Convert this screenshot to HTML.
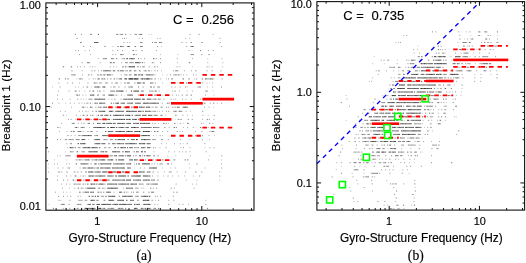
<!DOCTYPE html>
<html><head><meta charset="utf-8"><title>fig</title>
<style>html,body{margin:0;padding:0;background:#fff}svg{display:block;will-change:transform}</style>
</head><body>
<svg width="526" height="263" viewBox="0 0 526 263">
<rect width="526" height="263" fill="#fff"/>
<path d="M148.7 34.4h0.8M112.4 46.5h0.8M115.9 66.8h0.9M58.7 78.9h0.8M76.3 78.9h0.7M161.1 46.5h0.8M191.7 50.6h0.7M151.7 66.8h0.7M192.0 66.8h0.7M166.4 74.9h0.9M166.1 78.9h0.9M94.7 78.9h1.1M85.7 99.2h0.9M65.3 103.2h0.9M74.0 103.2h1.1M87.8 111.3h0.9M59.6 127.5h1.0M222.0 78.9h0.7M209.1 83.0h0.8M207.2 87.0h0.8M212.7 91.1h0.7M213.0 107.2h0.8M192.1 115.3h1.0M207.8 115.3h0.8M168.0 123.4h1.0M182.8 123.4h0.8M203.2 123.4h0.9M65.1 151.8h0.8M66.5 159.9h0.9M47.8 168.0h0.9M134.3 168.0h0.8M183.0 143.7h0.7M159.4 147.7h1.0M204.6 147.7h0.8M167.3 155.8h1.0M175.3 155.8h1.1M221.2 159.9h0.9M161.9 168.0h1.0M68.7 188.2h1.0M141.1 188.2h1.0M66.3 192.2h0.9M70.1 192.2h0.7M48.4 204.4h0.7M219.0 180.1h1.0M149.7 196.3h1.1" stroke="#000" stroke-opacity="0.3" stroke-width="0.9" fill="none"/>
<path d="M119.5 34.4h0.8M129.9 34.4h1.0M134.4 34.4h1.0M138.5 34.4h1.5M122.1 38.4h0.9M125.8 38.4h0.9M138.8 38.4h0.8M142.0 38.4h1.0M81.5 42.5h0.5M123.3 42.5h1.1M129.4 42.5h0.8M105.2 46.5h0.7M117.2 46.5h1.0M122.6 46.5h1.3M75.3 50.6h1.0M78.1 50.6h0.9M89.0 50.6h0.9M112.3 50.6h1.0M117.0 50.6h1.1M135.6 50.6h1.0M90.0 54.6h0.8M112.3 54.6h1.1M115.2 54.6h0.9M122.3 54.6h1.6M135.7 54.6h1.0M97.8 58.7h0.9M121.6 58.7h1.2M121.1 62.7h1.0M129.0 62.7h0.8M132.5 62.7h0.9M143.9 62.7h0.9M83.8 66.8h1.1M89.5 66.8h1.0M94.6 66.8h0.8M123.0 66.8h1.1M72.3 70.8h0.3M81.6 70.8h1.0M123.7 70.8h0.4M125.1 70.8h1.3M126.4 70.8h0.8M140.2 70.8h0.7M143.5 70.8h1.5M146.0 70.8h0.8M72.3 74.9h1.5M75.2 74.9h0.5M90.9 74.9h1.1M92.0 74.9h0.4M101.4 74.9h0.9M112.2 74.9h1.1M124.1 74.9h1.5M64.9 78.9h1.0M81.6 78.9h0.9M82.5 78.9h0.2M88.6 78.9h0.8M98.4 78.9h1.5M104.3 78.9h1.2M110.3 78.9h1.0M120.1 78.9h1.4M121.5 78.9h0.6M151.4 34.4h0.8M189.5 34.4h1.1M156.9 38.4h0.9M185.4 38.4h0.7M189.1 38.4h0.7M219.4 38.4h1.1M190.2 46.5h1.1M156.0 50.6h1.1M188.6 50.6h1.0M160.3 54.6h0.7M177.5 54.6h0.8M176.8 58.7h1.1M192.1 58.7h1.0M207.5 58.7h0.7M221.4 58.7h0.9M153.1 62.7h1.1M222.4 62.7h0.9M176.6 66.8h1.1M179.3 66.8h1.0M208.6 66.8h1.0M211.7 66.8h1.1M222.2 66.8h0.8M151.4 70.8h0.8M161.2 70.8h0.8M172.9 70.8h1.0M177.8 70.8h0.8M211.5 70.8h1.1M154.6 74.9h0.9M162.3 74.9h0.5M173.3 74.9h1.5M186.1 74.9h0.7M195.6 74.9h0.9M155.1 78.9h0.7M158.1 78.9h0.8M188.1 78.9h0.7M194.0 78.9h0.7M205.4 78.9h0.9M210.0 78.9h0.8M212.7 78.9h0.8M221.5 78.9h0.9M65.1 78.9h0.8M67.6 78.9h1.0M78.6 78.9h1.0M97.0 78.9h1.1M103.6 78.9h1.0M110.5 78.9h0.9M116.2 78.9h1.3M120.6 78.9h1.0M145.8 78.9h1.2M79.0 83.0h0.9M95.4 83.0h0.9M96.4 83.0h1.3M99.0 83.0h1.2M120.6 83.0h0.8M125.2 83.0h0.9M129.0 83.0h1.0M52.3 87.0h0.7M59.6 87.0h1.1M78.0 87.0h0.8M82.9 87.0h1.0M91.1 87.0h0.7M114.3 87.0h1.3M128.0 87.0h0.9M142.6 87.0h0.8M78.9 91.1h1.0M84.4 91.1h0.8M99.9 91.1h1.0M103.3 91.1h1.1M85.5 95.1h0.7M124.6 95.1h0.5M144.9 95.1h1.1M69.6 99.2h1.0M80.6 99.2h0.9M89.9 99.2h0.9M108.4 99.2h0.7M111.3 99.2h1.1M81.5 103.2h0.9M87.4 103.2h1.1M50.6 107.2h1.1M71.0 107.2h0.8M86.8 107.2h0.9M91.5 107.2h0.8M101.2 107.2h1.1M131.8 107.2h1.5M59.9 111.3h1.0M64.8 111.3h1.0M82.2 111.3h0.8M91.9 111.3h1.4M96.7 111.3h0.3M65.8 115.3h0.7M80.4 115.3h0.7M83.8 115.3h0.8M96.1 115.3h0.5M75.1 119.4h0.6M82.8 119.4h1.5M61.2 123.4h0.9M80.9 123.4h0.9M83.5 127.5h1.3M89.2 127.5h0.8M152.0 78.9h0.4M160.2 78.9h1.1M201.9 78.9h0.8M206.2 78.9h0.8M207.1 78.9h1.1M177.1 83.0h0.7M195.5 83.0h0.8M157.0 87.0h1.3M159.4 87.0h0.4M174.7 87.0h1.0M187.4 87.0h0.6M197.4 87.0h1.3M212.3 87.0h0.9M150.0 91.1h0.9M150.9 91.1h1.2M152.0 91.1h1.5M153.6 91.1h0.8M156.3 91.1h0.7M158.7 91.1h0.9M186.7 91.1h0.8M178.2 95.1h0.9M185.8 95.1h1.1M213.7 95.1h0.7M152.4 99.2h1.1M153.5 99.2h1.0M155.9 99.2h1.0M160.1 99.2h0.8M170.5 99.2h1.3M162.1 103.2h0.9M168.0 103.2h0.9M168.9 103.2h1.2M209.8 103.2h1.0M216.8 103.2h0.8M150.5 107.2h0.9M154.9 107.2h1.1M162.3 107.2h0.5M168.1 107.2h1.4M153.2 111.3h1.2M162.0 111.3h0.9M185.5 111.3h1.0M190.2 111.3h0.7M157.4 115.3h0.5M165.3 115.3h0.8M182.2 115.3h1.1M187.2 115.3h0.7M175.3 119.4h0.4M187.6 119.4h1.5M154.3 123.4h1.3M155.7 123.4h0.2M158.1 123.4h0.8M177.0 123.4h0.3M201.0 123.4h1.1M154.4 127.5h1.0M157.2 127.5h1.0M164.1 127.5h1.4M168.8 127.5h1.0M187.0 127.5h0.8M58.9 131.5h0.9M82.6 131.5h1.1M85.2 131.5h0.3M89.7 131.5h1.0M96.5 131.5h1.2M74.7 135.6h0.9M78.0 135.6h1.2M95.3 135.6h1.5M70.8 139.6h0.9M71.7 139.6h1.0M127.1 139.6h1.2M66.2 143.7h1.0M69.7 143.7h1.3M109.5 143.7h0.8M67.0 147.7h0.8M77.6 147.7h0.9M79.7 147.7h0.9M108.3 147.7h1.1M134.9 147.7h1.4M136.3 147.7h1.4M72.6 151.8h1.1M84.0 151.8h1.1M123.9 151.8h0.2M57.0 155.8h0.8M59.8 155.8h0.9M65.1 155.8h1.4M69.5 155.8h1.3M112.6 155.8h0.6M54.1 159.9h0.8M48.0 163.9h0.7M54.1 163.9h0.9M134.1 163.9h0.9M57.6 168.0h1.0M143.9 168.0h0.9M48.0 172.0h1.0M57.9 172.0h1.3M66.1 172.0h1.0M67.1 172.0h0.7M74.6 172.0h1.0M77.1 172.0h1.5M80.6 172.0h1.5M57.1 176.0h1.0M70.2 176.0h0.8M150.9 131.5h0.8M155.1 131.5h0.9M162.3 131.5h0.9M179.8 131.5h0.7M182.1 131.5h0.9M195.2 131.5h0.9M153.0 135.6h0.9M159.6 135.6h1.1M162.3 135.6h0.7M208.5 135.6h1.1M214.1 135.6h0.7M150.2 139.6h0.9M153.6 139.6h1.3M179.8 139.6h1.1M189.7 139.6h0.7M202.0 139.6h1.0M209.2 139.6h0.8M165.9 143.7h0.7M155.2 147.7h0.8M180.4 147.7h0.9M189.6 147.7h0.9M213.5 147.7h1.1M153.4 151.8h0.9M181.9 151.8h0.9M189.9 155.8h1.0M153.0 159.9h0.8M162.9 159.9h1.0M174.7 159.9h1.0M154.0 163.9h1.2M162.0 163.9h0.9M188.8 163.9h0.7M221.0 163.9h1.0M189.5 168.0h0.8M150.4 172.0h0.8M163.9 172.0h0.9M168.8 172.0h1.5M171.2 172.0h0.6M176.6 172.0h1.0M149.8 176.0h1.0M152.0 176.0h1.0M163.1 176.0h0.7M172.2 176.0h0.8M178.0 176.0h0.8M192.9 176.0h0.8M90.5 180.1h1.2M93.2 180.1h0.2M99.0 180.1h1.1M61.0 184.1h1.0M69.4 184.1h0.8M75.0 184.1h0.9M75.9 184.1h1.5M77.4 184.1h1.1M84.6 184.1h1.5M141.6 184.1h1.5M143.0 184.1h0.8M146.2 184.1h1.4M80.6 188.2h1.4M82.0 188.2h1.6M84.8 188.2h0.7M97.8 188.2h0.9M100.1 188.2h0.3M123.0 188.2h1.1M135.0 188.2h1.0M136.0 188.2h1.0M143.3 188.2h0.9M63.1 192.2h0.8M113.5 192.2h1.0M116.8 192.2h0.4M126.1 192.2h1.4M128.6 192.2h0.4M137.5 192.2h1.1M138.6 192.2h0.3M148.1 192.2h0.8M148.9 192.2h0.9M66.8 196.3h0.9M70.2 196.3h1.1M80.3 196.3h0.9M135.0 196.3h1.6M138.1 196.3h0.8M60.5 200.3h0.8M78.0 200.3h1.2M79.2 200.3h1.6M80.8 200.3h1.5M84.6 200.3h0.8M86.4 200.3h1.0M76.6 204.4h1.4M79.3 204.4h0.8M62.8 208.4h1.1M73.7 208.4h0.9M102.3 208.4h1.0M107.3 208.4h1.1M109.4 208.4h1.3M119.8 208.4h1.1M122.4 208.4h1.0M156.9 180.1h1.3M185.8 180.1h0.9M196.4 180.1h0.9M150.0 184.1h1.5M196.2 184.1h0.9M176.1 192.2h1.2M156.9 196.3h1.1M151.3 200.3h1.3M155.2 200.3h0.8M168.2 200.3h1.0M173.2 200.3h1.1M205.4 200.3h0.9M150.4 204.4h1.0M154.3 204.4h1.1M157.3 204.4h0.7M178.8 204.4h0.8M182.5 204.4h1.1M188.0 204.4h0.8M150.0 208.4h1.2M153.2 208.4h1.5M159.9 208.4h0.9M169.1 208.4h0.8" stroke="#000" stroke-opacity="0.4" stroke-width="0.9" fill="none"/>
<path d="M81.1 34.4h0.9M91.0 34.4h1.0M117.8 34.4h0.4M120.4 34.4h0.8M122.7 34.4h0.4M76.5 38.4h1.1M123.9 38.4h0.9M80.0 42.5h1.5M139.9 42.5h1.5M83.2 46.5h1.0M90.0 46.5h0.8M104.3 46.5h0.9M126.9 46.5h0.8M84.7 50.6h0.7M122.1 50.6h0.8M79.1 54.6h0.9M134.1 54.6h0.8M103.7 58.7h0.9M112.8 58.7h1.4M140.6 58.7h0.8M144.2 58.7h1.0M81.7 62.7h1.0M99.7 62.7h0.9M114.1 62.7h0.9M125.1 62.7h1.5M129.9 62.7h1.3M133.4 62.7h0.6M77.1 66.8h0.9M79.9 66.8h0.8M91.9 66.8h0.9M113.4 66.8h0.8M127.7 66.8h0.3M137.1 66.8h0.9M143.6 66.8h1.2M148.7 66.8h1.0M94.2 70.8h1.1M98.0 70.8h0.7M127.2 70.8h0.8M129.0 70.8h1.0M135.0 70.8h1.4M147.8 70.8h0.9M148.7 70.8h1.3M82.1 74.9h0.8M87.9 74.9h1.6M120.8 74.9h0.8M125.6 74.9h1.2M67.5 78.9h0.9M92.9 78.9h0.8M107.1 78.9h1.1M113.8 78.9h0.8M125.6 78.9h1.5M198.5 34.4h1.1M212.7 34.4h0.8M159.6 38.4h0.9M152.0 42.5h1.0M154.3 42.5h1.5M155.8 42.5h1.1M160.3 42.5h0.8M161.1 42.5h1.1M181.4 42.5h1.0M185.6 42.5h0.8M190.5 42.5h1.4M219.7 42.5h0.9M186.3 46.5h0.9M192.9 46.5h1.0M221.1 46.5h0.7M208.0 50.6h0.8M212.7 50.6h0.9M190.5 54.6h1.3M191.8 54.6h1.0M201.2 54.6h1.1M155.8 58.7h1.1M160.0 58.7h0.9M151.8 62.7h1.2M160.0 62.7h1.0M177.1 62.7h0.7M189.6 62.7h0.7M154.0 66.8h1.5M157.0 66.8h0.9M154.5 70.8h1.0M157.1 70.8h1.0M176.6 70.8h1.2M183.9 70.8h0.8M191.2 70.8h0.8M206.6 70.8h0.9M220.5 70.8h0.9M170.1 74.9h1.0M174.8 74.9h0.8M178.9 74.9h0.7M180.6 74.9h0.8M182.9 74.9h0.8M193.1 74.9h1.0M151.8 78.9h0.6M171.0 78.9h1.0M201.8 78.9h1.0M207.9 78.9h0.9M58.8 78.9h1.1M80.7 78.9h0.9M102.3 78.9h1.2M104.6 78.9h0.4M113.9 78.9h0.8M119.7 78.9h1.0M141.9 78.9h1.4M143.2 78.9h1.1M58.4 83.0h0.9M67.3 83.0h0.8M72.0 83.0h1.0M87.5 83.0h1.0M93.6 83.0h0.8M100.2 83.0h1.2M105.3 83.0h1.6M116.7 83.0h1.2M124.1 83.0h1.1M74.9 87.0h0.7M110.5 87.0h0.9M113.2 87.0h1.1M124.5 87.0h1.0M129.0 87.0h0.9M129.9 87.0h1.4M58.1 91.1h0.8M74.7 91.1h1.1M89.1 91.1h1.1M90.2 91.1h0.2M112.5 91.1h1.5M125.7 91.1h0.9M149.1 91.1h0.9M57.3 95.1h0.9M76.1 95.1h0.9M82.5 95.1h0.8M97.0 95.1h1.4M102.5 95.1h1.1M117.7 95.1h0.5M121.0 95.1h1.0M138.0 95.1h0.9M146.0 95.1h0.9M57.2 99.2h0.9M62.0 99.2h0.8M77.3 99.2h1.0M83.0 99.2h0.6M88.5 99.2h1.4M90.8 99.2h0.9M91.7 99.2h0.8M120.6 99.2h0.9M69.8 103.2h0.9M78.6 103.2h0.9M84.1 103.2h0.8M92.0 103.2h0.4M95.9 103.2h1.2M81.7 107.2h1.6M95.3 107.2h1.0M97.8 107.2h1.2M99.0 107.2h0.9M114.8 107.2h1.4M78.9 111.3h0.8M85.5 111.3h1.0M62.8 115.3h1.1M75.8 115.3h0.9M91.9 115.3h1.2M93.1 115.3h0.4M68.1 119.4h0.8M70.6 119.4h1.0M90.5 119.4h1.2M100.3 119.4h0.9M101.2 119.4h0.6M71.7 123.4h1.4M77.8 123.4h0.8M83.4 123.4h1.1M74.7 127.5h1.2M78.3 127.5h0.4M80.6 127.5h1.3M154.3 78.9h1.0M168.0 78.9h1.0M196.2 78.9h1.0M209.3 78.9h1.6M212.3 78.9h1.0M154.8 83.0h1.1M202.2 83.0h0.9M206.6 83.0h0.7M212.4 83.0h0.7M171.4 87.0h0.9M179.7 87.0h0.9M185.1 87.0h1.2M199.9 87.0h1.1M221.0 87.0h1.1M171.9 91.1h0.8M179.0 91.1h0.8M191.9 91.1h0.8M206.4 91.1h1.4M153.9 95.1h1.2M162.5 95.1h0.8M172.3 95.1h0.9M181.6 95.1h1.3M190.5 95.1h1.5M205.2 95.1h0.8M158.8 99.2h1.3M173.5 99.2h0.7M175.3 99.2h0.9M182.1 99.2h0.9M185.5 99.2h0.8M190.7 99.2h0.9M200.1 99.2h0.9M221.1 103.2h1.0M152.4 107.2h1.2M156.0 107.2h0.8M156.8 107.2h0.7M160.5 107.2h0.8M172.1 107.2h1.4M204.2 107.2h0.9M208.7 107.2h0.8M150.0 111.3h0.8M150.8 111.3h0.7M152.4 111.3h0.8M154.4 111.3h0.8M155.2 111.3h0.9M156.9 111.3h0.6M158.9 111.3h0.7M166.1 111.3h0.9M168.1 111.3h1.1M173.3 111.3h1.3M180.0 111.3h0.8M180.8 111.3h1.6M202.2 111.3h1.1M153.6 115.3h1.2M155.9 115.3h1.5M160.3 115.3h1.1M202.5 115.3h0.8M213.6 115.3h1.1M177.7 119.4h1.2M191.7 119.4h1.0M202.0 119.4h0.7M208.8 119.4h1.0M213.6 119.4h0.8M152.2 123.4h0.7M165.8 123.4h1.0M179.8 123.4h1.0M212.5 123.4h0.8M150.0 127.5h0.9M150.9 127.5h0.9M156.2 127.5h1.0M182.9 127.5h0.7M192.8 127.5h0.8M207.8 127.5h0.8M66.6 131.5h0.7M70.6 131.5h1.5M79.0 131.5h1.3M90.8 131.5h0.9M70.8 135.6h0.8M79.2 135.6h1.4M99.5 135.6h0.2M57.0 139.6h1.0M60.2 139.6h0.9M64.8 139.6h1.3M66.1 139.6h1.0M68.6 139.6h1.0M75.7 139.6h1.3M76.9 139.6h1.3M103.3 139.6h1.2M111.6 139.6h1.2M113.9 139.6h0.3M105.7 147.7h0.6M134.0 147.7h0.9M48.1 151.8h0.9M69.7 151.8h1.4M71.1 151.8h1.4M81.6 151.8h1.1M82.7 151.8h1.3M123.0 151.8h0.9M67.7 155.8h1.0M109.3 155.8h1.2M110.5 155.8h1.0M75.7 159.9h0.9M76.6 159.9h1.0M80.0 159.9h1.2M91.5 159.9h1.5M57.0 163.9h0.7M66.2 163.9h0.7M68.8 163.9h0.8M62.6 168.0h0.8M67.7 168.0h1.0M68.8 168.0h1.3M79.7 168.0h0.8M85.6 168.0h0.9M61.4 172.0h0.9M73.7 172.0h0.9M66.1 176.0h1.0M82.6 176.0h1.3M85.0 176.0h0.5M167.3 131.5h0.9M201.4 131.5h0.9M211.3 131.5h0.9M194.9 135.6h0.9M154.9 139.6h1.0M160.9 139.6h1.6M167.8 139.6h0.9M150.1 143.7h0.9M161.0 143.7h0.8M174.2 143.7h0.8M179.9 143.7h0.8M186.8 143.7h1.1M204.4 143.7h0.9M150.3 147.7h0.9M153.1 147.7h1.1M165.6 147.7h0.9M183.1 147.7h0.9M209.5 147.7h0.7M174.1 151.8h0.7M178.9 151.8h0.8M185.5 151.8h1.0M189.5 151.8h0.9M205.7 151.8h0.9M150.0 155.8h1.0M153.0 155.8h1.6M154.5 155.8h0.4M157.5 155.8h1.3M209.3 155.8h0.4M221.3 155.8h1.0M173.3 159.9h1.4M187.0 159.9h1.5M157.3 163.9h0.6M159.5 163.9h1.0M160.5 163.9h1.4M166.8 163.9h0.8M171.0 163.9h0.8M175.0 168.0h0.7M204.7 168.0h0.7M221.3 168.0h0.8M170.3 172.0h0.9M195.1 172.0h1.5M201.3 172.0h1.1M157.5 176.0h0.8M167.5 176.0h1.0M184.4 176.0h0.7M199.1 176.0h1.1M57.0 180.1h1.0M67.4 180.1h1.0M75.4 180.1h0.3M100.0 180.1h1.1M66.2 184.1h0.8M78.5 184.1h1.5M140.2 184.1h1.4M62.1 188.2h0.8M74.4 188.2h0.8M137.0 188.2h1.5M55.0 192.2h0.9M97.4 192.2h1.4M100.4 192.2h1.5M103.1 192.2h1.3M131.0 192.2h0.9M136.0 192.2h1.6M142.9 192.2h1.4M58.0 196.3h1.0M63.0 196.3h1.0M77.7 196.3h0.9M101.2 196.3h1.2M118.7 196.3h1.3M58.5 200.3h1.0M69.4 200.3h1.1M82.3 200.3h0.3M137.1 200.3h1.6M60.8 204.4h0.8M68.5 204.4h1.1M80.1 204.4h1.4M65.0 208.4h0.8M69.3 208.4h1.0M76.6 208.4h1.3M77.9 208.4h0.7M108.4 208.4h1.0M113.7 208.4h0.5M117.8 208.4h1.0M152.2 180.1h1.5M158.2 180.1h0.7M151.5 184.1h1.4M191.9 184.1h0.8M150.0 188.2h1.4M152.8 188.2h1.0M170.8 188.2h1.0M173.8 188.2h0.9M193.6 188.2h0.8M177.2 192.2h0.4M154.8 196.3h1.0M160.2 196.3h0.9M172.7 196.3h1.0M152.6 200.3h0.4M168.2 204.4h1.0M205.3 204.4h0.9" stroke="#000" stroke-opacity="0.5" stroke-width="0.9" fill="none"/>
<path d="M75.1 34.4h0.9M90.1 34.4h0.9M116.2 34.4h1.6M121.2 34.4h1.5M125.2 34.4h1.1M135.4 34.4h1.4M141.5 34.4h0.8M118.2 46.5h0.6M121.0 46.5h1.6M129.1 46.5h0.9M134.6 46.5h1.5M140.1 46.5h1.5M141.5 46.5h1.1M141.6 50.6h1.0M120.1 54.6h1.0M121.1 54.6h1.2M132.8 54.6h1.3M136.7 54.6h0.2M102.9 58.7h0.8M104.7 58.7h1.4M106.0 58.7h0.8M129.0 58.7h1.5M133.7 58.7h1.1M86.9 62.7h1.0M88.0 62.7h1.5M89.5 62.7h0.4M111.1 62.7h0.7M112.8 62.7h1.3M131.2 62.7h1.3M62.8 66.8h1.4M70.7 66.8h1.4M109.8 66.8h0.7M122.1 66.8h0.9M137.9 66.8h0.8M140.1 66.8h0.8M142.3 66.8h1.3M71.5 70.8h0.8M91.6 70.8h0.9M101.0 70.8h0.7M103.9 70.8h1.2M109.2 70.8h1.4M138.9 70.8h1.3M145.0 70.8h1.0M71.3 74.9h1.0M73.7 74.9h1.4M97.4 74.9h1.3M99.7 74.9h0.9M100.6 74.9h0.9M126.8 74.9h0.6M129.0 74.9h0.9M129.9 74.9h0.9M130.8 74.9h0.7M124.1 78.9h1.5M128.0 78.9h0.9M144.2 78.9h1.5M146.8 78.9h1.3M158.9 42.5h1.4M201.4 42.5h1.2M157.2 46.5h0.8M200.1 50.6h1.1M192.8 54.6h1.1M208.5 54.6h1.2M207.5 62.7h0.7M206.7 66.8h0.8M195.3 70.8h1.1M150.0 74.9h1.1M151.1 74.9h1.2M175.6 74.9h1.2M177.7 74.9h1.3M151.0 78.9h0.8M182.8 78.9h0.8M98.1 78.9h1.3M121.6 78.9h0.5M125.1 78.9h1.6M126.7 78.9h0.4M134.9 78.9h1.3M144.3 78.9h0.5M147.8 78.9h1.0M101.4 83.0h0.3M106.9 83.0h0.8M111.5 83.0h1.0M115.2 83.0h1.5M126.9 83.0h0.9M134.3 83.0h1.1M140.4 83.0h1.0M86.5 87.0h1.1M87.6 87.0h0.5M96.0 87.0h0.9M99.2 87.0h1.1M118.4 87.0h1.0M132.1 87.0h0.8M143.4 87.0h0.4M68.7 91.1h0.8M75.7 91.1h0.9M97.1 91.1h0.7M99.0 91.1h0.9M110.3 91.1h1.3M114.0 91.1h1.2M140.9 91.1h1.0M141.9 91.1h0.9M142.7 91.1h1.2M98.4 95.1h0.6M103.6 95.1h1.3M102.9 99.2h0.9M104.7 99.2h0.6M114.4 99.2h1.0M127.2 99.2h1.1M140.7 99.2h0.2M149.6 99.2h0.4M52.1 103.2h0.9M58.6 103.2h0.7M86.5 103.2h0.9M113.2 103.2h1.0M115.2 103.2h1.3M127.0 103.2h1.4M129.8 103.2h1.2M100.0 107.2h1.2M144.0 107.2h0.8M112.3 111.3h1.2M147.1 111.3h1.6M86.5 115.3h1.4M89.9 115.3h0.8M121.1 115.3h1.1M134.6 115.3h1.2M92.9 119.4h0.6M99.0 119.4h1.3M130.2 119.4h0.8M137.9 119.4h1.5M73.1 123.4h1.6M87.6 123.4h1.1M93.0 123.4h0.9M102.2 123.4h1.0M121.3 123.4h1.0M123.6 123.4h1.2M126.1 123.4h1.3M135.1 123.4h1.3M57.4 127.5h1.1M81.9 127.5h1.6M96.0 127.5h1.3M101.0 127.5h1.4M119.9 127.5h1.4M128.0 127.5h1.0M135.9 127.5h0.9M136.8 127.5h1.5M140.9 127.5h1.5M142.4 127.5h1.0M146.3 127.5h1.1M150.0 78.9h0.9M182.8 78.9h0.9M188.8 78.9h0.9M205.0 78.9h1.3M210.9 78.9h1.4M151.1 83.0h1.3M152.4 83.0h1.0M162.4 83.0h0.5M150.0 87.0h0.9M150.9 87.0h1.1M158.3 87.0h1.2M198.8 87.0h1.1M174.6 91.1h1.1M205.4 91.1h1.1M176.0 95.1h0.7M186.9 95.1h0.7M154.5 99.2h1.4M157.9 99.2h0.9M163.6 99.2h0.8M155.7 103.2h0.8M166.8 103.2h1.2M203.8 103.2h1.1M204.9 103.2h0.5M213.2 103.2h1.1M161.3 107.2h1.0M166.2 107.2h0.9M174.7 107.2h1.1M182.6 107.2h1.0M186.0 107.2h1.5M174.7 111.3h1.3M175.9 111.3h0.8M150.0 115.3h1.0M175.3 115.3h1.2M206.8 119.4h1.1M174.1 123.4h1.3M209.4 123.4h0.8M158.2 127.5h1.1M173.7 127.5h1.3M200.1 127.5h1.1M73.7 131.5h1.0M77.6 131.5h1.4M87.5 131.5h0.9M115.2 131.5h0.9M129.1 131.5h1.6M131.6 131.5h1.3M134.0 131.5h1.3M138.0 131.5h0.9M144.3 131.5h1.0M67.5 135.6h1.0M81.6 135.6h0.9M86.8 135.6h1.3M94.4 135.6h0.8M96.7 135.6h1.3M106.7 135.6h1.3M140.5 135.6h0.9M69.7 139.6h1.2M72.7 139.6h1.0M78.2 139.6h1.4M88.1 139.6h0.4M110.1 139.6h1.5M128.3 139.6h0.7M141.9 139.6h1.2M143.1 139.6h0.9M147.9 139.6h1.1M71.0 143.7h0.9M81.1 143.7h0.9M94.4 143.7h1.0M108.3 143.7h1.2M120.0 143.7h1.6M121.5 143.7h1.4M127.7 143.7h1.2M135.1 143.7h1.2M72.9 147.7h0.8M78.6 147.7h1.1M96.0 147.7h1.0M99.0 147.7h1.5M104.3 147.7h1.3M109.3 147.7h1.1M117.4 147.7h1.1M120.1 147.7h0.8M137.7 147.7h1.2M144.4 147.7h1.2M79.4 151.8h0.2M101.5 151.8h1.4M116.0 151.8h1.4M122.1 151.8h0.9M133.5 151.8h1.3M137.4 151.8h1.2M66.5 155.8h1.2M68.6 155.8h0.8M111.5 155.8h1.1M123.7 155.8h0.4M130.8 155.8h0.2M133.0 155.8h0.9M135.4 155.8h1.2M142.2 155.8h0.8M145.8 155.8h1.1M78.6 159.9h1.4M82.6 159.9h1.0M87.0 159.9h1.3M93.0 159.9h0.5M99.6 159.9h1.1M108.4 159.9h0.9M144.9 159.9h0.9M86.6 163.9h1.3M90.5 163.9h1.1M98.1 163.9h0.9M103.2 163.9h0.9M114.4 163.9h1.1M122.1 163.9h1.5M124.4 163.9h0.7M127.6 163.9h0.9M84.1 168.0h1.6M90.1 168.0h1.4M101.8 168.0h1.4M103.2 168.0h1.1M114.1 168.0h1.0M118.7 168.0h1.3M140.2 168.0h0.7M59.2 172.0h0.7M96.0 172.0h1.4M141.6 172.0h1.2M147.8 172.0h1.4M80.1 176.0h0.5M91.1 176.0h0.9M97.5 176.0h1.3M112.3 176.0h1.5M131.0 176.0h1.4M147.8 176.0h1.3M154.1 131.5h0.9M156.9 131.5h1.5M176.7 131.5h0.8M213.3 131.5h1.0M156.6 135.6h0.3M202.0 135.6h0.7M152.4 139.6h1.2M162.5 139.6h0.4M168.5 151.8h0.8M161.9 159.9h1.0M184.6 159.9h1.3M208.4 159.9h0.7M151.6 163.9h0.8M196.6 163.9h1.0M170.3 168.0h0.5M152.6 172.0h1.1M157.7 172.0h0.6M185.3 172.0h0.8M219.4 172.0h0.7M219.4 176.0h0.8M63.2 180.1h0.8M83.2 180.1h1.3M113.8 180.1h1.4M116.3 180.1h0.8M119.3 180.1h1.5M120.8 180.1h0.8M134.4 180.1h1.5M146.9 180.1h1.2M73.7 184.1h1.3M82.6 184.1h1.2M92.7 184.1h1.0M118.2 184.1h1.6M125.6 184.1h0.9M126.5 184.1h1.0M130.0 184.1h0.8M138.9 184.1h1.2M148.5 184.1h0.9M77.6 188.2h1.4M98.7 188.2h1.4M104.5 188.2h0.8M127.0 188.2h1.4M129.7 188.2h1.5M79.0 192.2h1.3M80.2 192.2h0.4M82.6 192.2h1.0M86.8 192.2h1.0M91.7 192.2h1.0M120.7 192.2h1.5M123.7 192.2h1.1M133.1 192.2h0.9M91.5 196.3h1.1M102.4 196.3h1.3M127.4 196.3h0.8M131.9 196.3h0.9M136.6 196.3h1.6M140.9 196.3h1.6M85.4 200.3h1.0M96.4 200.3h1.1M97.5 200.3h1.1M103.6 200.3h1.2M104.8 200.3h0.5M138.7 200.3h0.2M61.7 204.4h1.3M63.0 204.4h0.9M63.8 204.4h0.9M78.0 204.4h1.3M112.2 204.4h1.2M126.2 204.4h1.0M127.2 204.4h1.1M128.2 204.4h0.9M142.9 204.4h1.0M52.9 208.4h1.1M81.3 208.4h1.0M89.2 208.4h1.0M93.3 208.4h0.9M104.8 208.4h0.5M110.7 208.4h1.5M112.2 208.4h1.5M121.0 208.4h1.5M125.1 208.4h1.1M142.4 208.4h1.2M150.9 180.1h1.3M153.7 184.1h1.2M157.1 184.1h0.8M175.7 184.1h0.8M156.0 188.2h0.9M151.0 192.2h0.9M151.9 192.2h1.2M153.1 192.2h1.1M173.3 192.2h0.9M158.2 200.3h0.9M154.7 208.4h1.3M157.9 208.4h1.2M207.0 208.4h1.1" stroke="#000" stroke-opacity="0.6" stroke-width="0.9" fill="none"/>
<path d="M97.9 34.4h1.1M140.0 34.4h1.5M94.0 42.5h1.6M95.6 42.5h1.4M97.9 42.5h0.5M126.9 42.5h0.5M141.4 42.5h0.9M120.1 46.5h0.9M127.7 46.5h1.4M142.7 46.5h0.2M132.6 50.6h1.0M133.6 50.6h0.4M111.2 58.7h1.5M116.2 58.7h1.0M123.5 58.7h1.3M132.8 58.7h0.9M138.0 58.7h0.9M109.9 62.7h1.3M126.6 62.7h1.0M138.3 62.7h1.3M141.9 62.7h1.1M125.1 66.8h1.2M102.9 70.8h0.9M106.6 70.8h1.3M107.9 70.8h1.3M110.6 70.8h0.6M112.8 70.8h1.4M114.2 70.8h1.0M117.6 70.8h1.6M120.1 70.8h1.1M121.3 70.8h1.0M122.3 70.8h1.4M130.0 70.8h1.4M134.0 70.8h1.0M103.3 74.9h1.1M108.4 74.9h1.0M109.4 74.9h1.5M111.0 74.9h0.3M135.9 74.9h1.2M145.8 74.9h1.4M148.2 74.9h1.1M101.4 78.9h1.0M134.0 78.9h1.0M137.5 78.9h0.9M138.4 78.9h0.5M140.5 78.9h1.2M141.7 78.9h1.3M145.7 78.9h1.1M148.0 78.9h1.6M149.6 78.9h0.4M191.3 46.5h1.6M153.0 58.7h1.4M188.8 62.7h0.9M175.3 70.8h1.3M152.3 74.9h1.3M172.0 78.9h0.7M79.6 78.9h1.0M118.5 78.9h1.1M130.9 78.9h0.9M131.7 78.9h0.8M132.6 78.9h1.2M133.8 78.9h1.1M136.2 78.9h1.1M147.0 78.9h0.8M94.4 83.0h1.0M127.8 83.0h1.2M144.2 83.0h0.6M102.3 87.0h0.9M131.3 87.0h0.8M138.0 87.0h0.9M92.5 91.1h1.6M111.6 91.1h1.0M117.5 91.1h1.1M76.9 95.1h1.5M79.3 95.1h0.7M89.9 95.1h1.1M90.9 95.1h1.3M94.0 95.1h0.4M108.3 95.1h1.0M113.2 95.1h1.0M115.6 95.1h1.0M127.1 95.1h1.5M131.6 95.1h1.1M96.5 99.2h0.9M97.4 99.2h1.6M100.3 99.2h1.1M123.1 99.2h1.5M124.6 99.2h1.4M126.0 99.2h1.1M129.8 99.2h1.2M131.0 99.2h0.9M134.0 99.2h1.2M141.9 99.2h0.9M146.7 99.2h1.5M89.9 103.2h0.9M94.4 103.2h1.5M97.1 103.2h0.7M99.0 103.2h1.2M101.6 103.2h0.9M102.5 103.2h1.1M103.6 103.2h1.3M104.9 103.2h0.4M110.8 103.2h1.3M120.6 103.2h1.2M121.8 103.2h1.4M124.7 103.2h0.4M128.4 103.2h1.4M132.5 103.2h0.5M135.0 103.2h1.6M136.5 103.2h1.5M139.0 103.2h1.0M140.0 103.2h0.9M148.3 103.2h1.5M83.2 107.2h1.1M85.2 107.2h0.3M89.9 107.2h1.6M92.3 107.2h0.3M104.5 107.2h1.2M123.4 107.2h1.3M124.7 107.2h0.4M131.0 107.2h0.8M142.5 107.2h1.6M149.6 107.2h0.4M95.6 111.3h1.1M98.4 111.3h1.4M99.8 111.3h1.4M115.2 111.3h0.9M116.1 111.3h0.8M119.0 111.3h1.6M121.5 111.3h1.5M123.0 111.3h1.1M130.0 111.3h1.1M131.1 111.3h0.9M134.1 111.3h0.9M142.4 111.3h1.5M146.1 111.3h1.0M82.6 115.3h1.2M101.7 115.3h1.4M104.3 115.3h1.5M113.1 115.3h1.5M122.2 115.3h0.9M125.1 115.3h1.2M131.6 115.3h1.4M137.3 115.3h1.4M138.7 115.3h1.3M139.9 115.3h0.9M142.0 115.3h1.3M111.0 119.4h0.2M112.8 119.4h1.5M114.3 119.4h1.1M118.0 119.4h1.1M127.6 119.4h1.1M132.0 119.4h1.1M133.1 119.4h1.3M88.7 123.4h1.2M97.0 123.4h1.1M98.1 123.4h1.2M99.3 123.4h1.3M107.3 123.4h1.1M111.0 123.4h1.3M117.1 123.4h1.3M119.8 123.4h1.5M130.5 123.4h0.5M133.0 123.4h1.1M134.1 123.4h1.0M141.2 123.4h1.2M144.8 123.4h1.0M149.1 123.4h0.9M75.9 127.5h1.5M94.7 127.5h1.3M102.4 127.5h1.4M104.7 127.5h0.7M110.0 127.5h0.8M114.3 127.5h0.9M118.5 127.5h1.3M123.3 127.5h1.1M126.6 127.5h1.4M131.0 127.5h1.5M135.1 127.5h0.8M143.5 127.5h1.0M144.4 127.5h0.9M147.4 127.5h1.3M150.0 83.0h1.1M186.1 83.0h1.0M153.4 87.0h1.2M154.9 91.1h1.3M155.1 95.1h0.8M150.0 99.2h1.4M150.0 103.2h1.5M156.5 103.2h1.5M176.8 107.2h1.5M178.3 107.2h1.3M187.5 107.2h0.5M178.7 111.3h1.3M151.0 115.3h1.4M154.8 115.3h1.1M161.3 115.3h1.1M178.9 119.4h0.4M180.6 119.4h1.0M163.2 123.4h1.3M187.2 123.4h1.5M153.0 127.5h1.4M155.4 127.5h0.8M175.9 127.5h0.8M72.9 131.5h0.8M80.3 131.5h1.0M91.7 131.5h0.8M107.8 131.5h1.2M109.1 131.5h1.5M110.6 131.5h0.8M111.4 131.5h0.9M116.1 131.5h1.2M117.2 131.5h1.5M121.3 131.5h1.4M123.9 131.5h0.9M126.1 131.5h1.5M136.6 131.5h1.5M82.5 135.6h0.9M84.3 135.6h1.5M89.1 135.6h1.6M90.7 135.6h0.8M91.5 135.6h0.4M103.8 135.6h1.3M105.1 135.6h1.6M108.0 135.6h0.3M141.4 135.6h1.4M145.9 135.6h1.3M147.2 135.6h1.1M149.6 135.6h0.4M83.9 139.6h1.4M104.5 139.6h1.1M106.5 139.6h0.9M120.3 139.6h1.2M121.5 139.6h1.0M131.0 139.6h1.0M132.0 139.6h1.5M140.9 139.6h1.0M146.4 139.6h1.5M149.0 139.6h0.9M80.0 143.7h1.2M95.4 143.7h0.9M101.4 143.7h1.5M102.9 143.7h1.2M114.6 143.7h0.9M116.6 143.7h1.2M117.8 143.7h1.3M122.9 143.7h1.2M125.1 143.7h1.4M141.2 143.7h1.5M147.8 143.7h1.1M148.8 143.7h1.2M71.3 147.7h1.6M83.6 147.7h1.3M86.4 147.7h1.5M95.0 147.7h1.1M97.0 147.7h0.8M123.4 147.7h1.0M124.4 147.7h1.6M131.5 147.7h0.9M132.3 147.7h0.7M140.9 147.7h1.2M142.1 147.7h0.8M148.8 147.7h1.2M76.6 151.8h1.5M90.7 151.8h1.6M100.4 151.8h1.1M106.1 151.8h0.9M118.8 151.8h0.9M127.3 151.8h0.8M128.1 151.8h1.6M129.7 151.8h0.3M136.0 151.8h1.4M138.5 151.8h0.4M118.5 155.8h1.4M120.0 155.8h1.3M121.3 155.8h0.9M125.1 155.8h0.9M138.9 155.8h1.3M148.3 155.8h1.5M81.1 159.9h0.4M85.7 159.9h1.3M94.4 159.9h1.2M98.3 159.9h1.3M107.3 159.9h1.1M129.0 159.9h1.6M75.7 163.9h1.4M82.5 163.9h1.6M85.3 163.9h1.3M87.8 163.9h0.7M94.2 163.9h0.9M104.1 163.9h1.2M106.5 163.9h1.5M108.0 163.9h1.0M109.0 163.9h1.0M113.2 163.9h1.2M115.5 163.9h1.2M117.8 163.9h0.8M119.5 163.9h1.5M126.1 163.9h1.5M128.5 163.9h1.2M141.9 163.9h1.3M149.8 163.9h0.2M82.6 168.0h1.5M96.5 168.0h1.3M104.4 168.0h1.5M105.9 168.0h0.9M115.2 168.0h1.2M120.0 168.0h1.2M121.2 168.0h1.0M124.5 168.0h0.5M128.7 168.0h1.1M148.9 168.0h1.1M94.4 172.0h1.5M98.9 172.0h0.8M102.0 172.0h0.9M107.3 172.0h0.4M124.0 172.0h0.7M143.7 172.0h0.8M146.8 172.0h1.0M74.7 176.0h1.6M93.2 176.0h1.3M96.4 176.0h1.1M102.6 176.0h0.9M103.5 176.0h1.1M107.3 176.0h0.8M109.4 176.0h1.6M110.9 176.0h1.4M116.6 176.0h0.6M127.4 176.0h1.5M133.6 176.0h0.9M149.2 176.0h0.8M209.6 131.5h0.7M212.2 131.5h1.1M155.3 159.9h0.6M167.6 163.9h1.5M150.0 168.0h1.2M151.2 168.0h1.5M72.7 180.1h1.5M101.1 180.1h0.6M108.5 180.1h1.1M117.1 180.1h1.2M121.7 180.1h0.9M133.0 180.1h1.4M135.9 180.1h1.4M138.8 180.1h1.0M142.9 180.1h1.0M143.8 180.1h1.0M149.1 180.1h0.9M80.0 184.1h0.6M87.0 184.1h1.5M91.9 184.1h0.8M98.4 184.1h1.2M109.5 184.1h1.0M111.7 184.1h1.0M113.6 184.1h1.3M115.0 184.1h1.2M119.7 184.1h1.2M122.8 184.1h1.2M131.9 184.1h1.2M133.1 184.1h1.0M134.1 184.1h1.4M135.5 184.1h0.8M147.6 184.1h1.0M86.5 188.2h0.9M91.0 188.2h1.1M102.3 188.2h1.2M109.1 188.2h1.6M116.3 188.2h1.3M132.8 188.2h0.2M98.7 192.2h0.7M109.5 192.2h1.4M88.5 196.3h1.5M92.6 196.3h1.0M97.0 196.3h1.1M98.1 196.3h1.1M105.3 196.3h1.4M108.1 196.3h1.5M122.1 196.3h1.2M125.9 196.3h1.5M130.8 196.3h1.1M142.5 196.3h1.6M94.6 200.3h0.5M113.5 200.3h0.7M117.2 200.3h0.8M118.0 200.3h1.5M126.0 200.3h1.5M130.0 200.3h1.5M131.5 200.3h1.4M133.0 200.3h1.0M107.4 204.4h1.1M110.7 204.4h0.5M113.5 204.4h1.5M120.6 204.4h0.8M129.1 204.4h1.5M130.6 204.4h0.9M137.8 204.4h0.9M145.3 204.4h1.3M147.8 204.4h1.2M74.6 208.4h0.8M94.2 208.4h1.2M103.4 208.4h1.4M118.8 208.4h1.1M140.9 208.4h1.5M148.6 208.4h1.4M153.7 180.1h1.2M152.9 184.1h0.8M154.9 184.1h0.9M155.8 184.1h1.3" stroke="#000" stroke-opacity="0.7" stroke-width="0.9" fill="none"/>
<path d="M97.1 42.5h0.9M135.0 62.7h1.1M136.1 62.7h0.9M105.1 70.8h1.6M104.4 74.9h0.9M134.0 74.9h0.9M138.2 74.9h1.3M140.5 74.9h1.1M144.6 74.9h0.2M131.3 78.9h0.9M136.6 78.9h1.0M129.4 78.9h1.5M137.3 78.9h0.6M136.9 83.0h1.3M139.5 83.0h0.9M142.7 83.0h1.6M94.4 87.0h1.5M96.9 87.0h1.3M98.1 87.0h1.0M103.2 87.0h0.9M116.2 91.1h1.4M118.7 91.1h1.3M120.0 91.1h0.8M133.4 91.1h1.5M92.2 95.1h0.9M112.1 95.1h1.1M128.6 95.1h1.1M130.8 95.1h0.8M94.4 99.2h0.8M101.4 99.2h1.5M128.3 99.2h1.5M135.2 99.2h1.6M136.7 99.2h1.6M138.3 99.2h1.1M139.4 99.2h1.3M144.2 99.2h0.7M148.2 99.2h1.5M117.9 103.2h1.1M123.2 103.2h1.5M138.0 103.2h1.0M142.9 103.2h1.0M145.4 103.2h1.5M146.9 103.2h1.4M138.9 107.2h1.5M145.8 107.2h1.4M147.3 107.2h1.2M101.3 111.3h1.3M102.5 111.3h1.5M109.9 111.3h1.0M116.9 111.3h0.9M117.8 111.3h1.3M132.9 111.3h1.2M135.0 111.3h0.8M135.8 111.3h1.1M139.0 111.3h1.3M148.7 111.3h1.3M100.4 115.3h1.3M105.8 115.3h1.5M107.3 115.3h1.1M109.9 115.3h1.3M118.1 115.3h1.4M119.5 115.3h1.6M123.1 115.3h1.0M126.3 115.3h0.9M135.8 115.3h1.5M144.3 115.3h0.9M145.2 115.3h1.4M108.5 119.4h1.5M115.4 119.4h1.4M116.9 119.4h1.1M119.0 119.4h1.0M120.1 119.4h1.2M122.3 119.4h1.4M126.1 119.4h1.6M104.0 123.4h1.0M106.3 123.4h1.0M108.3 123.4h1.2M109.5 123.4h1.4M114.5 123.4h1.1M127.4 123.4h0.9M128.2 123.4h0.9M129.2 123.4h1.4M136.4 123.4h1.5M139.9 123.4h1.3M142.4 123.4h1.2M145.8 123.4h0.8M147.7 123.4h1.5M93.4 127.5h1.2M98.7 127.5h1.2M103.8 127.5h0.8M107.3 127.5h1.5M121.2 127.5h1.2M125.6 127.5h0.9M132.5 127.5h1.2M138.3 127.5h0.6M145.4 127.5h0.9M148.7 127.5h0.8M152.3 103.2h1.0M158.0 103.2h0.9M112.3 131.5h0.9M118.7 131.5h1.4M122.7 131.5h1.2M149.3 131.5h0.7M83.4 135.6h0.9M85.8 135.6h1.0M82.9 139.6h1.0M95.3 139.6h1.3M96.5 139.6h1.4M97.9 139.6h1.2M99.2 139.6h0.9M115.2 139.6h1.2M117.5 139.6h1.3M118.8 139.6h1.5M122.4 139.6h1.3M133.5 139.6h1.3M145.1 139.6h1.3M82.0 143.7h0.8M83.8 143.7h1.2M84.9 143.7h0.6M98.7 143.7h1.2M99.9 143.7h0.5M104.1 143.7h1.2M112.2 143.7h1.3M113.5 143.7h1.1M126.5 143.7h1.2M128.9 143.7h1.0M129.9 143.7h1.2M133.6 143.7h1.5M136.3 143.7h0.6M138.9 143.7h1.2M140.2 143.7h1.0M142.7 143.7h1.2M146.6 143.7h1.2M82.6 147.7h1.0M84.8 147.7h1.5M92.6 147.7h1.3M93.9 147.7h1.0M118.5 147.7h0.6M122.1 147.7h1.3M127.0 147.7h1.1M130.3 147.7h1.2M142.9 147.7h1.5M92.3 151.8h1.4M94.7 151.8h1.5M97.1 151.8h0.7M102.9 151.8h1.3M105.2 151.8h0.9M107.0 151.8h0.2M117.4 151.8h1.4M119.7 151.8h0.4M141.9 151.8h1.1M145.5 151.8h0.3M114.2 155.8h1.4M115.6 155.8h1.4M122.1 155.8h1.5M126.8 155.8h1.1M127.9 155.8h1.6M140.2 155.8h0.9M143.9 155.8h1.0M147.0 155.8h1.4M84.7 159.9h0.9M95.7 159.9h0.9M100.7 159.9h1.0M109.3 159.9h1.4M115.6 159.9h1.3M118.1 159.9h1.0M119.1 159.9h1.0M120.2 159.9h0.8M121.0 159.9h1.1M123.0 159.9h0.9M123.8 159.9h0.3M81.7 163.9h0.8M84.1 163.9h1.2M95.1 163.9h1.5M99.0 163.9h0.4M101.5 163.9h0.9M105.3 163.9h1.2M116.7 163.9h1.1M118.6 163.9h0.9M123.6 163.9h0.8M136.0 163.9h0.8M146.1 163.9h1.0M88.6 168.0h1.6M91.5 168.0h1.5M94.4 168.0h0.9M97.8 168.0h1.1M106.7 168.0h1.6M108.3 168.0h0.9M109.2 168.0h1.3M113.1 168.0h1.1M116.4 168.0h1.4M117.8 168.0h0.9M122.2 168.0h0.9M123.0 168.0h1.5M127.2 168.0h1.6M129.8 168.0h1.0M88.1 172.0h1.4M90.7 172.0h1.3M91.9 172.0h1.5M105.8 172.0h1.5M115.0 172.0h0.9M123.1 172.0h0.9M138.9 172.0h1.6M149.2 172.0h0.8M89.7 176.0h1.4M92.0 176.0h1.1M95.4 176.0h0.9M98.8 176.0h1.2M101.2 176.0h1.4M108.1 176.0h1.3M115.1 176.0h1.5M118.2 176.0h1.2M119.3 176.0h1.6M125.0 176.0h1.1M132.4 176.0h1.2M136.9 176.0h1.1M140.4 176.0h0.5M142.9 176.0h1.1M144.0 176.0h1.2M146.5 176.0h1.4M107.3 180.1h1.2M112.3 180.1h1.5M115.1 180.1h1.2M118.3 180.1h1.0M122.6 180.1h1.5M124.1 180.1h1.0M126.9 180.1h1.3M128.2 180.1h1.2M130.7 180.1h0.3M144.8 180.1h1.1M148.1 180.1h1.0M93.7 184.1h1.6M99.6 184.1h1.4M102.7 184.1h0.9M108.3 184.1h1.2M112.7 184.1h0.9M120.9 184.1h0.9M124.1 184.1h1.6M128.4 184.1h0.6M88.5 188.2h1.6M90.1 188.2h0.9M92.0 188.2h1.4M94.3 188.2h1.1M108.2 188.2h1.0M113.3 188.2h1.4M114.7 188.2h1.6M117.6 188.2h0.5M128.5 188.2h1.2M131.2 188.2h1.6M84.6 192.2h1.2M85.8 192.2h1.0M87.8 192.2h1.1M90.2 192.2h1.5M106.3 192.2h1.1M107.4 192.2h1.3M108.7 192.2h0.8M94.8 196.3h1.2M110.3 196.3h1.3M113.1 196.3h0.9M123.3 196.3h1.4M128.2 196.3h1.2M146.4 196.3h1.1M147.4 196.3h0.9M92.7 200.3h0.8M93.5 200.3h1.0M109.6 200.3h1.5M112.3 200.3h1.2M120.3 200.3h1.3M144.3 200.3h1.3M145.5 200.3h1.1M87.5 204.4h1.0M88.6 204.4h1.2M89.8 204.4h1.1M92.4 204.4h1.4M97.4 204.4h1.6M99.0 204.4h1.1M101.4 204.4h1.1M105.7 204.4h0.9M106.6 204.4h0.9M116.5 204.4h0.8M123.8 204.4h1.4M134.0 204.4h1.5M138.7 204.4h1.2M143.9 204.4h1.4M84.6 208.4h1.5M88.2 208.4h1.1M97.4 208.4h1.2M98.6 208.4h1.4M134.0 208.4h1.3M136.5 208.4h0.9M147.0 208.4h1.6" stroke="#000" stroke-opacity="0.8" stroke-width="0.9" fill="none"/>
<path d="M126.3 58.7h1.6M130.5 58.7h1.2M131.6 58.7h1.2M134.7 58.7h0.2M137.0 62.7h1.3M139.6 62.7h0.9M128.6 66.8h1.3M129.9 66.8h1.4M131.4 66.8h1.4M132.8 66.8h1.1M133.9 66.8h1.1M106.8 74.9h1.5M134.9 74.9h1.0M139.5 74.9h0.4M141.6 74.9h1.5M147.3 74.9h0.9M149.3 74.9h0.7M129.0 78.9h1.5M130.4 78.9h0.9M132.2 78.9h0.8M135.0 78.9h1.5M138.2 83.0h1.3M104.1 87.0h1.3M120.8 91.1h1.3M122.1 91.1h0.9M123.0 91.1h0.5M130.9 91.1h1.2M134.9 91.1h1.6M136.5 91.1h1.4M137.9 91.1h1.1M93.1 95.1h0.9M109.3 95.1h1.5M110.8 95.1h1.3M129.7 95.1h1.1M132.7 95.1h0.3M95.3 99.2h1.2M99.0 99.2h1.3M103.8 99.2h0.9M131.9 99.2h1.1M142.8 99.2h1.4M100.2 103.2h1.4M116.5 103.2h1.5M131.1 103.2h1.4M143.9 103.2h1.5M103.3 107.2h1.2M105.8 107.2h1.1M140.4 107.2h1.3M141.6 107.2h0.8M148.5 107.2h1.2M104.0 111.3h1.1M105.1 111.3h0.2M108.9 111.3h0.9M110.8 111.3h1.5M120.6 111.3h0.9M126.1 111.3h1.2M127.2 111.3h1.2M128.4 111.3h1.6M132.1 111.3h0.8M137.9 111.3h1.1M140.3 111.3h1.2M145.1 111.3h1.0M97.8 115.3h1.0M114.6 115.3h1.4M116.0 115.3h1.3M117.3 115.3h0.8M127.2 115.3h1.6M128.8 115.3h1.5M143.3 115.3h1.0M148.2 115.3h1.0M149.2 115.3h0.8M107.3 119.4h1.2M121.2 119.4h1.1M123.8 119.4h1.3M128.8 119.4h1.4M134.4 119.4h1.6M136.0 119.4h0.8M103.2 123.4h0.9M105.0 123.4h0.3M113.2 123.4h1.3M118.4 123.4h1.4M122.2 123.4h1.4M124.8 123.4h0.3M137.8 123.4h1.0M143.6 123.4h1.2M146.6 123.4h1.0M97.3 127.5h1.4M100.0 127.5h1.0M110.9 127.5h1.5M112.3 127.5h0.9M113.3 127.5h1.0M116.2 127.5h1.0M122.4 127.5h0.8M133.7 127.5h1.4M149.5 127.5h0.5M151.5 103.2h0.8M153.3 103.2h1.3M154.6 103.2h1.1M183.6 107.2h1.0M184.6 107.2h1.3M105.3 131.5h1.0M120.1 131.5h1.2M124.8 131.5h0.3M127.6 131.5h1.6M130.7 131.5h0.9M135.3 131.5h1.3M138.9 131.5h1.5M142.9 131.5h1.5M145.3 131.5h1.4M146.7 131.5h1.0M147.8 131.5h1.6M88.1 135.6h1.0M102.3 135.6h1.4M142.8 135.6h1.5M144.3 135.6h1.6M148.3 135.6h1.3M81.6 139.6h1.3M94.4 139.6h0.8M123.7 139.6h1.2M136.0 139.6h1.4M137.4 139.6h0.5M144.0 139.6h1.1M77.6 143.7h1.3M82.8 143.7h1.0M96.3 143.7h1.2M97.6 143.7h1.1M119.1 143.7h0.9M131.1 143.7h1.3M132.4 143.7h1.2M143.8 143.7h1.4M69.7 147.7h1.6M74.7 147.7h0.9M87.9 147.7h1.2M89.1 147.7h1.3M91.5 147.7h1.2M114.4 147.7h1.5M120.9 147.7h1.1M129.4 147.7h0.9M147.2 147.7h1.6M88.5 151.8h0.9M89.4 151.8h1.3M93.7 151.8h1.0M96.2 151.8h0.9M112.2 151.8h1.3M113.6 151.8h1.1M114.7 151.8h1.3M125.1 151.8h0.9M125.9 151.8h1.4M140.9 151.8h1.0M144.3 151.8h1.2M129.5 155.8h1.3M88.3 159.9h1.2M96.5 159.9h0.9M101.7 159.9h1.2M102.9 159.9h1.5M104.4 159.9h0.9M110.7 159.9h1.4M112.1 159.9h1.1M122.1 159.9h0.9M130.6 159.9h1.0M131.6 159.9h1.0M132.6 159.9h0.4M134.0 159.9h1.5M135.5 159.9h1.0M136.6 159.9h1.0M80.6 163.9h1.1M100.4 163.9h1.1M102.4 163.9h0.8M110.0 163.9h1.3M121.0 163.9h1.1M129.7 163.9h1.4M138.3 163.9h1.5M143.2 163.9h1.6M144.7 163.9h1.3M147.1 163.9h1.2M148.3 163.9h1.5M87.5 168.0h1.1M93.0 168.0h0.4M100.3 168.0h1.5M112.2 168.0h0.8M85.5 172.0h1.1M89.5 172.0h1.1M97.3 172.0h1.5M99.7 172.0h1.0M102.9 172.0h1.4M104.3 172.0h1.5M113.2 172.0h0.8M114.0 172.0h1.0M115.9 172.0h0.3M122.1 172.0h1.0M140.5 172.0h1.1M142.8 172.0h0.9M144.6 172.0h0.3M88.5 176.0h1.2M100.0 176.0h1.2M104.6 176.0h0.7M120.9 176.0h1.3M122.2 176.0h1.5M123.6 176.0h1.3M134.5 176.0h1.0M135.6 176.0h1.3M138.0 176.0h1.0M138.9 176.0h1.5M145.2 176.0h1.3M152.7 168.0h1.5M154.3 168.0h1.2M155.5 168.0h1.3M126.1 180.1h0.8M129.4 180.1h1.4M137.3 180.1h1.5M139.9 180.1h1.0M146.0 180.1h0.9M90.5 184.1h1.5M96.4 184.1h1.0M101.1 184.1h1.6M104.6 184.1h0.7M107.3 184.1h1.0M110.5 184.1h1.2M116.2 184.1h1.0M121.8 184.1h1.0M127.5 184.1h1.0M130.9 184.1h1.1M136.3 184.1h0.7M87.5 188.2h1.0M93.5 188.2h0.9M107.3 188.2h0.9M110.7 188.2h1.5M112.2 188.2h1.1M126.1 188.2h1.0M92.7 192.2h1.1M119.2 192.2h1.6M124.9 192.2h0.2M109.5 196.3h0.8M111.7 196.3h1.4M114.0 196.3h0.9M114.9 196.3h0.3M124.7 196.3h1.2M129.4 196.3h1.4M132.8 196.3h0.2M144.1 196.3h1.2M145.2 196.3h1.1M149.2 196.3h0.8M90.5 200.3h1.3M91.7 200.3h1.0M108.5 200.3h1.1M111.2 200.3h1.1M119.5 200.3h0.9M121.7 200.3h0.8M122.5 200.3h0.9M123.4 200.3h0.7M142.9 200.3h1.4M146.7 200.3h1.3M148.0 200.3h1.3M93.9 204.4h0.6M96.4 204.4h1.0M102.5 204.4h1.6M104.1 204.4h1.6M108.5 204.4h0.9M109.4 204.4h1.3M115.0 204.4h1.5M117.3 204.4h0.9M119.2 204.4h1.5M121.4 204.4h0.8M122.3 204.4h1.6M125.2 204.4h1.0M131.5 204.4h0.5M136.4 204.4h1.4M146.6 204.4h1.1M148.9 204.4h1.1M86.0 208.4h1.2M90.3 208.4h1.5M91.8 208.4h1.5M99.9 208.4h1.4M135.2 208.4h1.3M144.7 208.4h1.1" stroke="#000" stroke-opacity="0.9" stroke-width="0.9" fill="none"/>
<path d="M470.4 35.5h0.8M497.4 35.5h0.8M463.9 39.0h0.8M457.6 42.5h0.8M458.3 46.1h0.7M453.9 85.0h0.8M446.2 102.6h0.9M397.0 60.2h0.8M383.9 63.7h0.8M368.9 81.4h0.9M345.7 95.6h1.0M345.7 120.3h0.9M401.1 148.6h1.0M421.7 113.2h0.9M421.8 138.0h0.8M421.7 152.1h0.8M371.5 162.7h1.0M408.9 162.7h1.0M414.4 162.7h0.7M341.1 166.3h0.8M359.5 166.3h0.8M363.6 173.3h1.0M408.8 173.3h1.0M414.7 187.5h0.9M411.1 205.2h0.9" stroke="#000" stroke-opacity="0.3" stroke-width="0.9" fill="none"/>
<path d="M466.1 31.9h0.7M483.9 31.9h0.8M459.3 35.5h1.0M480.9 35.5h0.4M466.9 39.0h1.0M470.4 39.0h1.2M473.1 39.0h0.3M462.1 42.5h0.9M465.8 42.5h1.5M481.1 42.5h0.9M487.1 42.5h1.3M488.4 42.5h0.8M496.2 42.5h1.0M497.1 42.5h1.2M498.3 42.5h0.2M471.8 46.1h1.1M441.8 49.6h1.0M444.6 49.6h1.1M466.9 49.6h1.1M475.8 49.6h0.9M489.7 49.6h1.5M492.9 49.6h0.8M438.0 53.1h1.6M445.3 53.1h0.4M460.5 53.1h1.0M473.3 53.1h0.8M479.1 53.1h1.1M469.6 56.7h0.8M478.7 56.7h1.2M482.1 56.7h0.8M485.6 56.7h0.9M445.2 60.2h1.0M451.3 60.2h0.8M467.0 63.7h0.9M468.0 63.7h1.2M474.8 63.7h0.8M479.3 63.7h1.3M480.6 63.7h1.4M482.0 63.7h1.0M460.7 67.3h0.8M476.8 67.3h1.1M477.9 67.3h0.4M455.6 70.8h1.5M466.4 70.8h1.3M489.8 70.8h0.9M496.3 70.8h0.9M442.7 74.4h0.9M461.5 74.4h1.0M474.5 74.4h0.7M480.4 74.4h1.0M490.7 74.4h0.7M450.2 77.9h1.5M458.3 77.9h1.3M474.3 77.9h1.1M456.0 81.4h0.9M446.8 85.0h1.0M437.5 88.5h1.1M440.1 88.5h1.0M441.1 88.5h0.7M461.6 88.5h0.7M452.2 92.0h0.9M461.1 92.0h0.8M440.1 95.6h0.9M455.9 95.6h0.7M460.6 95.6h0.8M429.9 99.1h1.0M445.3 99.1h1.0M446.3 99.1h0.8M452.6 99.1h0.9M431.3 102.6h1.1M436.8 102.6h1.0M443.2 102.6h1.1M452.6 102.6h1.1M453.7 102.6h0.5M424.0 106.2h1.3M428.4 106.2h1.0M443.7 106.2h1.0M444.7 106.2h1.1M373.8 56.7h0.7M388.0 60.2h0.9M408.3 60.2h1.0M414.6 60.2h1.1M372.4 63.7h0.8M396.7 63.7h0.9M389.2 67.3h1.3M390.4 67.3h1.4M391.8 67.3h1.0M392.8 67.3h1.2M399.2 67.3h1.5M405.4 67.3h1.0M415.0 67.3h0.9M375.7 70.8h1.0M386.0 70.8h0.9M398.4 70.8h0.8M407.0 70.8h0.9M409.4 70.8h0.5M417.1 70.8h1.1M419.1 70.8h1.0M377.8 74.4h1.0M399.3 74.4h1.3M404.6 74.4h0.4M390.7 77.9h0.9M393.7 77.9h1.0M397.7 77.9h1.3M399.0 77.9h1.5M371.1 81.4h1.0M392.6 81.4h0.9M382.4 95.6h0.7M346.5 99.1h1.0M386.5 99.1h0.9M391.5 99.1h0.6M372.8 102.6h1.0M403.3 35.5h1.0M406.2 35.5h1.1M395.6 42.5h0.8M398.1 42.5h0.8M417.5 49.6h0.8M413.9 53.1h0.8M419.0 53.1h1.1M358.9 120.3h1.0M365.7 120.3h0.9M402.1 120.3h1.2M418.4 123.8h1.3M366.9 127.4h1.5M365.4 130.9h1.4M355.6 134.4h1.1M363.8 134.4h0.8M420.1 134.4h0.9M354.2 138.0h1.5M407.3 138.0h1.2M348.8 141.5h1.0M359.2 141.5h0.8M363.4 141.5h1.5M366.3 141.5h1.1M367.4 141.5h1.0M406.0 141.5h1.0M409.1 141.5h1.5M414.5 141.5h1.0M416.8 141.5h1.5M341.5 145.1h0.9M367.7 145.1h1.1M373.0 145.1h0.4M376.6 145.1h1.1M381.3 145.1h1.4M401.0 145.1h1.5M408.8 145.1h1.1M412.6 145.1h1.2M355.6 148.6h0.9M410.4 148.6h0.9M355.9 152.1h0.7M358.4 152.1h1.5M360.9 152.1h1.5M373.3 152.1h1.0M399.0 152.1h1.5M403.4 152.1h0.9M409.9 152.1h1.6M413.9 152.1h1.3M338.4 155.7h1.1M373.7 155.7h1.0M378.3 155.7h1.0M384.9 155.7h1.3M407.9 155.7h0.9M430.3 109.7h1.1M433.0 109.7h0.9M441.3 109.7h1.1M444.3 109.7h1.0M453.0 109.7h1.1M437.7 113.2h1.1M443.1 113.2h0.9M445.2 113.2h0.9M430.9 116.8h1.0M431.9 116.8h1.4M454.2 116.8h1.0M456.0 116.8h0.5M422.7 120.3h0.8M431.3 120.3h0.8M437.2 120.3h0.9M445.3 120.3h0.8M421.7 123.8h1.0M421.0 127.4h0.9M424.4 127.4h0.6M427.2 127.4h0.9M429.9 127.4h0.9M426.9 130.9h1.2M432.3 130.9h0.7M424.6 134.4h1.3M456.2 134.4h1.0M433.6 145.1h1.0M434.6 145.1h1.3M437.7 148.6h1.1M361.7 159.2h1.1M374.1 159.2h1.2M375.3 159.2h1.0M379.0 159.2h0.8M381.8 159.2h0.9M398.1 159.2h0.8M403.3 159.2h1.0M409.4 159.2h1.1M413.9 159.2h0.9M380.1 162.7h1.6M383.8 162.7h1.0M388.1 162.7h1.0M364.6 166.3h0.8M388.8 166.3h0.3M393.1 166.3h1.0M335.8 169.8h0.9M353.6 169.8h0.9M389.2 169.8h0.9M407.0 169.8h0.9M351.7 173.3h0.9M370.8 173.3h1.2M379.1 173.3h0.9M380.0 173.3h0.2M389.4 173.3h1.1M362.9 176.9h1.3M374.2 176.9h0.9M356.3 180.4h1.0M386.4 180.4h0.8M414.1 180.4h1.1M357.5 183.9h0.9M395.9 183.9h1.1M403.1 183.9h1.1M371.9 191.0h1.0M333.3 194.5h1.0M411.9 194.5h1.6M413.5 194.5h0.4M353.5 201.6h0.8M395.2 201.6h1.0M413.4 201.6h1.0M383.7 205.2h0.8M387.4 205.2h0.8M396.1 205.2h0.9M431.7 162.7h0.3M420.8 166.3h1.1M397.2 208.7h1.3M398.5 208.7h0.9M399.5 208.7h0.7M403.5 208.7h1.0" stroke="#000" stroke-opacity="0.4" stroke-width="0.9" fill="none"/>
<path d="M435.4 31.9h0.9M458.5 31.9h0.9M469.4 31.9h1.0M479.8 31.9h0.6M484.7 31.9h0.8M487.0 31.9h0.2M490.4 35.5h0.7M459.4 39.0h1.1M497.2 39.0h0.8M463.0 42.5h1.3M490.5 42.5h1.0M440.6 46.1h1.0M468.8 46.1h1.0M440.1 49.6h0.7M484.6 49.6h0.9M435.8 53.1h1.1M443.7 53.1h0.8M455.2 53.1h0.9M464.3 53.1h0.9M488.7 53.1h1.1M450.6 56.7h0.8M462.5 56.7h1.0M467.2 56.7h0.9M482.9 56.7h1.3M486.5 56.7h1.0M487.4 56.7h0.8M495.2 56.7h0.8M446.2 60.2h0.5M469.2 63.7h1.3M442.4 67.3h1.2M468.3 67.3h1.1M457.1 70.8h1.2M470.2 70.8h1.3M476.2 70.8h0.9M484.9 70.8h1.4M445.2 74.4h1.5M496.6 74.4h1.1M445.8 77.9h0.5M447.7 77.9h1.3M453.1 77.9h1.2M462.5 77.9h0.9M496.4 77.9h1.1M480.3 81.4h0.9M438.3 85.0h1.1M439.4 85.0h1.4M447.8 85.0h0.9M449.8 85.0h0.8M461.7 85.0h1.1M433.9 88.5h1.2M446.1 92.0h1.0M449.4 92.0h0.8M455.1 92.0h1.0M432.1 95.6h1.0M442.3 95.6h0.4M449.6 95.6h1.0M433.2 99.1h1.0M436.2 99.1h1.3M437.5 99.1h1.3M455.0 99.1h1.1M428.9 102.6h1.5M432.3 102.6h0.9M440.8 102.6h0.8M421.0 106.2h1.0M427.4 106.2h1.0M435.0 106.2h1.1M445.9 106.2h0.8M455.0 106.2h1.0M380.8 60.2h0.8M383.6 60.2h0.9M387.2 60.2h0.8M388.9 60.2h0.3M406.3 60.2h1.1M419.4 60.2h0.8M407.5 63.7h1.0M411.2 63.7h1.6M420.4 63.7h0.6M407.9 67.3h1.4M410.7 67.3h1.5M413.6 67.3h1.4M419.2 67.3h1.1M379.1 70.8h0.7M393.3 70.8h0.8M407.9 70.8h1.5M416.1 70.8h1.0M398.2 74.4h1.1M372.4 77.9h0.7M389.5 85.0h1.0M388.8 88.5h0.4M393.1 88.5h1.1M387.6 92.0h0.2M381.3 102.6h1.3M349.2 106.2h0.8M400.2 42.5h0.8M417.8 46.1h0.4M364.9 109.7h0.8M369.0 109.7h0.8M357.6 116.8h1.0M366.6 120.3h1.5M400.6 120.3h1.6M355.4 123.8h1.0M362.6 123.8h1.0M413.9 123.8h1.4M415.2 123.8h1.0M416.3 123.8h1.1M417.4 123.8h1.0M419.6 123.8h1.4M355.4 127.4h1.1M361.8 127.4h1.1M364.4 127.4h1.2M361.9 130.9h1.0M366.8 130.9h1.2M357.8 134.4h0.7M362.8 134.4h1.0M419.0 134.4h1.2M378.2 138.0h1.6M394.5 138.0h1.4M400.9 138.0h1.5M403.5 138.0h1.4M409.4 138.0h1.2M417.1 138.0h1.1M418.2 138.0h1.3M354.6 141.5h1.3M399.5 141.5h1.4M402.7 141.5h1.3M403.9 141.5h1.1M407.0 141.5h0.9M356.0 145.1h0.9M365.4 145.1h1.4M366.8 145.1h0.9M371.5 145.1h1.5M383.7 145.1h1.4M394.1 145.1h0.9M402.5 145.1h1.0M409.9 145.1h0.8M410.7 145.1h1.1M411.8 145.1h0.8M413.8 145.1h0.8M414.7 145.1h0.9M419.4 145.1h0.9M342.0 148.6h0.7M363.9 148.6h0.9M369.3 148.6h1.1M371.7 148.6h0.9M382.2 148.6h0.8M383.1 148.6h1.6M340.0 152.1h1.1M353.6 152.1h1.0M354.6 152.1h1.3M402.1 152.1h1.3M420.5 152.1h0.5M360.5 155.7h0.9M371.4 155.7h0.9M377.3 155.7h1.0M400.0 155.7h1.0M414.7 155.7h1.5M426.9 109.7h1.3M438.4 109.7h0.7M445.3 109.7h0.8M431.6 113.2h1.2M432.8 113.2h1.0M423.0 116.8h0.4M426.8 116.8h1.1M429.9 116.8h1.0M438.2 116.8h1.1M428.2 120.3h1.0M429.9 123.8h1.6M440.2 123.8h0.6M430.8 127.4h0.9M423.1 141.5h0.8M431.4 141.5h0.6M439.1 141.5h0.8M436.4 148.6h1.3M431.2 155.7h0.9M358.1 159.2h0.9M360.5 159.2h1.2M385.5 159.2h0.9M389.2 159.2h1.2M336.5 162.7h0.7M340.9 162.7h0.9M349.6 162.7h1.0M358.5 162.7h1.2M367.6 162.7h1.2M374.7 162.7h0.9M378.7 162.7h1.4M382.9 162.7h0.8M385.9 162.7h0.3M390.5 162.7h1.6M400.4 162.7h0.9M404.0 162.7h0.9M354.3 166.3h0.9M373.8 166.3h1.0M383.5 166.3h1.3M386.2 166.3h1.2M406.4 166.3h0.9M354.4 169.8h0.8M357.4 169.8h1.1M363.5 169.8h1.0M381.0 169.8h0.8M385.3 169.8h0.8M392.7 169.8h0.9M402.4 169.8h0.9M340.9 173.3h1.1M372.0 173.3h1.4M373.3 173.3h1.0M375.7 173.3h1.2M401.8 173.3h1.0M331.7 176.9h1.0M352.6 176.9h0.9M364.2 176.9h0.3M366.7 176.9h1.3M371.8 176.9h1.0M371.2 180.4h0.9M371.6 183.9h1.0M394.7 183.9h1.1M414.2 183.9h1.1M349.6 187.5h0.7M393.4 187.5h1.0M350.3 191.0h0.9M414.8 191.0h1.1M394.1 194.5h0.9M352.9 198.1h1.0M395.7 198.1h1.2M413.6 198.1h0.8M357.3 201.6h0.9M377.4 201.6h1.1M430.9 162.7h0.9M391.2 208.7h1.1M416.1 208.7h0.8" stroke="#000" stroke-opacity="0.5" stroke-width="0.9" fill="none"/>
<path d="M432.1 31.9h0.9M478.2 31.9h1.6M485.5 31.9h1.5M496.9 31.9h1.1M478.3 35.5h1.4M487.7 35.5h0.9M471.7 39.0h1.4M486.7 39.0h0.5M488.9 39.0h0.7M464.3 42.5h1.6M468.9 42.5h1.0M437.9 46.1h1.1M463.1 46.1h1.6M466.9 46.1h0.6M487.2 46.1h1.5M488.7 46.1h0.5M494.5 46.1h1.1M437.9 49.6h1.3M459.0 49.6h0.8M442.4 53.1h1.3M463.5 53.1h0.8M465.3 53.1h1.4M466.6 53.1h1.4M421.0 56.7h1.6M431.8 56.7h1.0M437.5 56.7h1.5M442.1 56.7h1.1M464.8 56.7h1.2M466.0 56.7h1.3M474.6 56.7h1.0M484.3 56.7h1.3M427.9 60.2h1.3M436.9 60.2h1.4M443.1 60.2h0.9M422.0 63.7h1.5M426.1 63.7h1.1M457.7 63.7h1.0M458.7 63.7h1.0M465.3 63.7h0.9M421.0 67.3h1.5M423.8 67.3h0.8M435.6 67.3h1.5M458.6 67.3h0.9M466.9 67.3h1.4M485.8 67.3h1.3M450.2 70.8h0.9M458.3 70.8h1.6M459.9 70.8h0.9M460.7 70.8h0.9M461.6 70.8h0.9M467.7 70.8h1.4M483.6 70.8h1.3M438.6 74.4h1.3M443.7 74.4h1.5M449.7 74.4h0.9M432.3 77.9h1.5M441.2 77.9h1.1M444.3 77.9h1.4M455.2 77.9h1.6M480.7 77.9h0.7M474.4 81.4h0.8M421.0 85.0h0.9M425.7 85.0h1.3M430.2 85.0h1.1M442.9 85.0h1.1M448.7 85.0h1.1M429.2 88.5h1.3M450.9 88.5h1.0M431.2 92.0h1.0M430.9 95.6h1.3M433.1 95.6h0.8M434.0 95.6h0.5M448.8 95.6h0.8M443.0 99.1h1.2M437.8 102.6h1.5M429.4 106.2h1.3M430.7 106.2h1.6M432.3 106.2h0.6M456.0 106.2h1.0M413.2 60.2h1.4M409.9 63.7h1.3M412.8 63.7h1.5M394.0 67.3h0.9M394.9 67.3h0.2M412.2 67.3h1.4M417.7 67.3h1.6M378.3 70.8h0.8M402.3 70.8h1.6M414.9 70.8h1.3M403.0 74.4h1.6M410.9 74.4h0.9M409.9 77.9h1.1M395.1 81.4h1.0M396.1 81.4h1.2M397.3 81.4h1.2M411.9 81.4h1.1M393.7 85.0h0.4M407.0 85.0h1.1M390.5 88.5h1.1M394.2 88.5h0.8M407.0 88.5h1.0M410.5 88.5h1.3M395.4 92.0h0.7M400.0 92.0h1.4M402.6 92.0h1.6M419.2 92.0h0.9M387.5 95.6h0.7M400.1 95.6h1.1M409.0 95.6h1.4M412.6 95.6h1.0M418.4 95.6h1.5M374.4 99.1h1.1M389.8 99.1h0.9M390.7 99.1h0.9M340.8 102.6h1.0M382.5 102.6h0.9M383.5 102.6h1.2M384.7 102.6h0.5M394.4 102.6h0.7M396.1 102.6h1.0M399.6 102.6h1.4M402.4 102.6h1.2M386.1 106.2h0.9M389.2 106.2h0.8M397.3 106.2h1.1M409.7 106.2h1.6M414.9 106.2h0.9M413.3 49.6h0.6M417.8 56.7h1.4M419.2 56.7h0.6M363.5 109.7h1.4M387.7 109.7h0.5M362.4 113.2h0.8M368.8 113.2h0.6M375.3 113.2h1.6M379.4 113.2h1.2M381.8 113.2h1.3M406.0 113.2h1.5M416.8 113.2h1.1M374.6 116.8h1.2M402.4 116.8h1.5M411.9 116.8h1.3M413.2 116.8h1.4M414.6 116.8h0.8M386.4 120.3h1.1M396.1 120.3h1.3M404.6 120.3h0.3M410.5 120.3h1.1M414.1 120.3h1.1M417.3 120.3h1.0M404.2 123.8h1.0M406.6 123.8h1.2M408.7 123.8h1.3M360.5 127.4h1.3M368.4 127.4h0.4M401.3 127.4h1.3M407.2 127.4h1.4M359.5 130.9h1.0M375.1 130.9h1.0M381.0 130.9h0.9M381.9 130.9h1.3M393.0 130.9h1.5M394.5 130.9h1.0M398.3 130.9h0.7M410.0 130.9h1.5M361.5 134.4h1.4M367.4 134.4h1.3M368.7 134.4h1.0M381.7 134.4h0.8M394.4 134.4h0.9M396.2 134.4h0.9M406.7 134.4h1.2M414.6 134.4h0.8M417.8 134.4h1.1M358.4 138.0h1.1M367.4 138.0h1.4M402.4 138.0h1.1M411.7 138.0h1.3M413.0 138.0h1.3M415.6 138.0h1.6M362.5 141.5h0.9M368.4 141.5h0.4M374.0 141.5h1.3M377.5 141.5h0.8M391.1 141.5h1.4M398.1 141.5h1.4M401.8 141.5h0.9M418.4 141.5h1.1M387.2 145.1h1.1M403.5 145.1h0.4M407.9 145.1h0.9M376.3 148.6h1.3M377.6 148.6h1.5M387.8 148.6h0.4M418.8 148.6h0.9M357.5 152.1h0.9M372.0 152.1h1.4M384.1 152.1h1.5M394.4 152.1h1.2M398.1 152.1h1.0M400.6 152.1h1.5M407.0 152.1h1.3M379.3 155.7h0.5M391.2 155.7h0.9M397.6 155.7h0.9M401.0 155.7h1.3M410.6 155.7h1.2M424.0 109.7h1.3M425.3 109.7h0.6M444.0 113.2h1.1M422.0 116.8h1.0M441.2 116.8h0.9M445.0 116.8h1.0M437.8 123.8h1.5M428.2 130.9h0.7M458.2 130.9h1.0M427.3 134.4h0.9M432.3 145.1h1.3M435.9 145.1h0.9M431.5 148.6h0.9M372.5 159.2h1.6M395.4 159.2h0.7M353.6 162.7h1.3M354.9 162.7h1.2M366.1 162.7h1.5M384.8 162.7h1.2M387.4 166.3h1.4M410.3 166.3h0.8M355.3 169.8h1.0M356.2 169.8h1.2M374.3 173.3h1.3M365.4 176.9h1.3M390.1 183.9h1.0M392.5 183.9h1.2M363.8 187.5h0.8M396.1 191.0h1.0M384.5 201.6h0.8M397.0 205.2h1.4M402.9 205.2h1.1M413.9 205.2h1.1M451.1 162.7h1.2M393.6 208.7h0.8" stroke="#000" stroke-opacity="0.6" stroke-width="0.9" fill="none"/>
<path d="M485.3 39.0h1.4M469.9 42.5h0.6M484.3 42.5h0.9M495.7 46.1h0.9M459.8 49.6h1.0M460.7 49.6h0.8M468.0 53.1h0.4M441.3 56.7h0.9M463.5 56.7h1.3M435.3 60.2h1.5M427.3 63.7h1.4M428.6 63.7h1.2M435.0 63.7h1.6M452.6 63.7h1.3M461.5 63.7h1.2M483.0 63.7h1.4M484.4 63.7h1.4M485.8 63.7h1.6M487.4 63.7h0.8M489.2 63.7h1.0M490.2 63.7h1.0M422.5 67.3h1.3M425.7 67.3h1.0M428.2 67.3h1.6M430.6 67.3h1.3M433.3 67.3h1.3M437.1 67.3h0.8M440.1 67.3h0.6M422.7 70.8h1.4M424.1 70.8h1.1M434.0 70.8h0.5M439.2 70.8h1.5M440.7 70.8h1.1M441.8 70.8h0.9M469.1 70.8h1.1M421.0 74.4h1.6M425.7 74.4h0.8M427.5 74.4h1.3M433.5 74.4h1.6M441.1 74.4h0.6M455.4 74.4h1.0M421.0 77.9h1.3M427.3 77.9h1.0M428.4 77.9h1.3M431.1 77.9h1.3M435.6 77.9h1.3M436.9 77.9h0.9M439.8 77.9h1.4M456.8 77.9h1.5M421.0 81.4h1.2M422.8 85.0h1.6M424.3 85.0h1.3M426.9 85.0h1.0M427.9 85.0h1.1M432.6 85.0h1.3M425.9 88.5h0.8M427.8 88.5h1.5M444.7 88.5h1.4M421.0 92.0h1.0M424.4 92.0h1.5M430.3 92.0h0.8M432.2 92.0h1.0M433.2 92.0h1.0M422.8 95.6h1.3M425.0 95.6h1.1M447.7 95.6h1.1M434.2 99.1h1.0M435.2 99.1h1.1M426.3 106.2h1.1M410.9 60.2h1.2M412.1 60.2h1.1M420.2 60.2h0.8M398.1 67.3h1.2M416.8 67.3h0.8M411.8 74.4h1.1M412.9 74.4h1.2M420.6 74.4h0.4M404.0 77.9h1.2M405.2 77.9h0.9M414.5 77.9h1.6M417.2 77.9h0.9M405.1 81.4h1.6M413.0 81.4h1.6M392.1 85.0h1.6M404.7 85.0h0.3M409.1 85.0h0.9M414.7 85.0h1.1M415.8 85.0h1.1M416.9 85.0h1.3M420.0 85.0h1.0M397.1 88.5h1.0M402.0 88.5h1.2M408.0 88.5h1.5M411.8 88.5h1.5M416.3 88.5h1.1M394.4 92.0h1.0M405.2 92.0h0.9M408.2 92.0h1.0M409.2 92.0h1.1M416.6 92.0h1.1M404.9 95.6h1.1M411.5 95.6h1.1M413.6 95.6h1.6M387.4 102.6h1.1M401.0 102.6h1.4M405.0 102.6h1.5M406.6 102.6h1.6M408.1 102.6h1.5M410.6 102.6h1.0M411.6 102.6h0.9M417.9 102.6h1.5M420.3 102.6h0.7M393.4 106.2h0.7M399.6 106.2h1.2M417.7 106.2h1.5M394.7 109.7h0.9M395.6 109.7h0.5M401.2 109.7h1.6M403.6 109.7h1.5M405.2 109.7h1.1M411.6 109.7h1.1M412.7 109.7h0.9M415.7 109.7h0.9M367.9 113.2h0.9M374.3 113.2h1.0M386.8 113.2h0.9M387.7 113.2h1.5M389.1 113.2h1.5M391.9 113.2h1.2M393.1 113.2h1.5M400.4 113.2h0.9M402.4 113.2h0.8M408.8 113.2h1.5M417.9 113.2h0.9M420.2 113.2h0.8M373.2 116.8h1.4M377.3 116.8h1.4M378.7 116.8h1.3M380.0 116.8h0.9M382.0 116.8h1.3M364.4 120.3h1.3M377.2 120.3h1.6M378.7 120.3h1.3M387.5 120.3h1.1M388.6 120.3h1.3M397.3 120.3h1.2M412.6 120.3h1.5M415.2 120.3h1.1M400.0 123.8h1.3M402.7 123.8h1.5M370.4 127.4h1.3M377.2 127.4h1.5M382.9 127.4h0.3M395.0 127.4h1.3M400.0 127.4h1.3M408.6 127.4h1.4M410.9 127.4h1.6M415.2 127.4h0.8M419.5 127.4h1.3M368.0 130.9h0.8M370.4 130.9h1.1M373.7 130.9h1.4M376.1 130.9h1.5M380.1 130.9h0.8M395.5 130.9h1.0M396.5 130.9h0.9M401.0 130.9h1.3M406.2 130.9h0.8M408.5 130.9h1.5M417.3 130.9h1.6M420.1 130.9h0.8M364.6 134.4h0.8M373.3 134.4h1.1M378.5 134.4h0.9M393.1 134.4h1.2M395.2 134.4h1.0M397.1 134.4h1.3M410.6 134.4h1.2M411.9 134.4h1.5M415.4 134.4h0.4M368.8 138.0h1.3M400.0 138.0h0.9M410.6 138.0h1.1M364.9 141.5h1.4M370.4 141.5h1.4M381.7 141.5h0.9M386.2 141.5h1.4M392.6 141.5h0.9M395.0 141.5h1.0M407.9 141.5h1.3M389.3 145.1h1.5M390.8 145.1h0.3M379.1 148.6h1.2M390.2 148.6h1.5M376.3 152.1h1.2M395.6 152.1h0.4M411.5 152.1h0.4M415.2 152.1h1.5M372.3 155.7h1.4M374.7 155.7h0.7M395.1 155.7h1.3M396.4 155.7h1.2M417.0 155.7h0.8M428.2 109.7h1.0M425.0 113.2h0.8M429.1 113.2h1.0M439.6 120.3h1.4M439.3 123.8h0.9M438.4 145.1h1.0M356.1 162.7h0.4M359.7 162.7h1.1M363.5 162.7h0.9M384.9 166.3h0.4M376.9 173.3h1.0M368.0 176.9h0.8M390.1 208.7h1.0" stroke="#000" stroke-opacity="0.7" stroke-width="0.9" fill="none"/>
<path d="M455.0 56.7h1.0M456.0 56.7h1.2M459.8 56.7h0.7M439.7 60.2h0.9M440.6 60.2h0.8M425.1 63.7h1.1M429.8 63.7h1.0M431.6 63.7h1.3M433.9 63.7h1.1M442.5 63.7h0.9M443.3 63.7h0.8M445.4 63.7h1.3M453.9 63.7h1.6M424.6 67.3h1.2M431.9 67.3h1.3M438.0 67.3h1.3M439.3 67.3h0.9M421.0 70.8h0.9M425.2 70.8h0.8M423.5 74.4h0.9M432.0 74.4h1.5M436.0 74.4h1.4M452.9 74.4h0.9M457.9 74.4h0.6M422.3 77.9h1.4M424.9 77.9h1.4M426.3 77.9h1.0M433.8 77.9h0.9M438.7 77.9h1.1M429.0 85.0h1.2M422.5 88.5h1.0M430.5 88.5h1.5M422.0 92.0h0.9M423.0 92.0h1.4M427.0 92.0h1.3M429.2 92.0h1.2M437.7 92.0h1.2M438.9 92.0h1.3M440.2 92.0h1.4M421.0 95.6h1.0M424.1 95.6h0.9M414.1 74.4h1.6M406.1 77.9h1.1M407.3 77.9h1.1M412.6 77.9h1.0M413.6 77.9h0.9M418.1 77.9h1.3M419.4 77.9h1.5M403.6 81.4h1.5M400.2 85.0h1.0M403.2 85.0h1.5M413.3 85.0h1.4M418.2 85.0h0.9M400.9 88.5h1.1M404.2 88.5h0.8M413.3 88.5h1.1M415.5 88.5h0.8M420.3 88.5h0.7M397.7 92.0h0.9M404.1 92.0h1.1M406.1 92.0h1.2M407.3 92.0h0.9M410.4 92.0h1.2M413.9 92.0h1.2M417.8 92.0h1.5M394.0 95.6h1.0M395.0 95.6h1.0M399.2 95.6h0.8M401.2 95.6h1.1M402.3 95.6h1.0M407.0 95.6h1.0M408.0 95.6h1.1M417.6 95.6h0.8M420.0 95.6h1.0M395.3 99.1h1.0M397.7 99.1h0.8M388.4 102.6h1.0M390.5 102.6h1.1M392.9 102.6h1.5M397.1 102.6h1.4M409.6 102.6h1.0M412.5 102.6h1.0M415.1 102.6h1.5M416.5 102.6h1.4M381.3 106.2h1.6M392.2 106.2h1.2M396.1 106.2h1.2M406.0 106.2h0.8M406.8 106.2h1.3M408.1 106.2h1.5M413.6 106.2h1.4M420.2 106.2h0.8M385.2 109.7h1.0M399.0 109.7h0.9M399.9 109.7h1.3M414.5 109.7h1.2M416.6 109.7h0.8M417.4 109.7h1.1M419.6 109.7h1.3M376.9 113.2h1.3M380.6 113.2h1.2M383.1 113.2h1.1M385.2 113.2h1.6M413.8 113.2h1.4M415.3 113.2h1.6M418.9 113.2h1.3M375.8 116.8h1.5M384.3 116.8h0.9M385.2 116.8h1.4M390.4 116.8h0.8M392.3 116.8h1.1M393.3 116.8h1.4M403.9 116.8h1.0M404.9 116.8h0.9M405.8 116.8h1.1M370.4 120.3h1.0M371.4 120.3h1.2M372.5 120.3h1.2M381.5 120.3h1.3M392.4 120.3h1.5M407.0 120.3h1.1M411.6 120.3h1.0M419.2 120.3h1.0M367.7 123.8h1.0M369.6 123.8h1.1M409.9 123.8h0.9M410.8 123.8h0.9M371.7 127.4h1.5M373.2 127.4h1.4M378.7 127.4h1.6M380.3 127.4h1.0M392.1 127.4h1.3M397.4 127.4h1.3M398.8 127.4h1.2M405.0 127.4h1.2M410.1 127.4h0.8M412.5 127.4h1.5M372.8 130.9h0.9M377.6 130.9h1.2M392.1 130.9h0.8M397.4 130.9h0.9M402.3 130.9h0.8M404.2 130.9h0.9M407.1 130.9h1.4M415.7 130.9h1.6M374.5 134.4h1.1M376.9 134.4h1.6M379.4 134.4h0.9M382.5 134.4h0.7M399.3 134.4h0.8M403.5 134.4h1.0M404.5 134.4h1.2M405.7 134.4h1.0M409.2 134.4h1.4M362.5 138.0h1.0M365.4 138.0h0.9M370.1 138.0h1.2M372.7 141.5h1.3M380.3 141.5h1.4M384.8 141.5h1.4M387.6 141.5h0.6M389.8 141.5h1.4M393.5 141.5h1.6M393.4 148.6h1.2M395.7 148.6h0.4M385.6 152.1h0.6M388.7 152.1h1.2M389.9 152.1h1.4M392.1 152.1h1.4M393.4 152.1h1.0" stroke="#000" stroke-opacity="0.8" stroke-width="0.9" fill="none"/>
<path d="M433.9 56.7h1.0M434.8 56.7h1.6M438.9 56.7h1.2M440.1 56.7h1.2M443.2 56.7h0.9M444.1 56.7h1.5M457.3 56.7h1.0M458.3 56.7h1.5M433.3 60.2h1.1M438.2 60.2h1.5M421.0 63.7h1.0M423.5 63.7h1.6M430.8 63.7h0.8M436.6 63.7h1.5M438.1 63.7h1.5M439.5 63.7h1.5M441.0 63.7h1.4M444.1 63.7h1.3M456.9 63.7h0.8M426.8 67.3h1.4M429.7 67.3h0.9M421.9 70.8h0.9M432.4 70.8h1.5M422.6 74.4h0.9M426.5 74.4h1.0M428.8 74.4h1.0M429.8 74.4h1.0M430.8 74.4h1.2M437.4 74.4h1.2M439.9 74.4h1.2M450.6 74.4h1.5M452.0 74.4h0.9M453.8 74.4h1.6M456.4 74.4h1.5M423.7 77.9h1.2M429.7 77.9h1.4M434.7 77.9h0.9M442.3 77.9h0.5M421.9 85.0h0.8M431.3 85.0h1.3M433.9 85.0h1.3M435.2 85.0h0.6M421.0 88.5h1.5M423.5 88.5h1.5M425.0 88.5h0.9M426.7 88.5h1.1M435.7 92.0h0.8M422.0 95.6h0.8M426.1 95.6h0.8M415.7 74.4h1.4M417.2 74.4h1.1M408.4 77.9h1.6M411.0 77.9h1.6M414.6 81.4h0.8M399.0 85.0h1.2M401.2 85.0h0.9M402.0 85.0h1.2M408.0 85.0h1.1M410.0 85.0h1.5M412.4 85.0h1.0M419.1 85.0h0.9M398.1 88.5h1.5M399.6 88.5h1.3M403.2 88.5h1.0M409.5 88.5h1.1M414.4 88.5h1.1M417.4 88.5h1.3M393.1 92.0h1.3M398.6 92.0h1.4M401.4 92.0h1.2M411.5 92.0h1.5M420.1 92.0h0.9M391.7 95.6h1.3M392.9 95.6h1.1M398.1 95.6h1.2M403.3 95.6h0.8M404.1 95.6h0.8M410.5 95.6h1.0M415.2 95.6h1.1M416.3 95.6h1.3M393.1 99.1h0.9M396.2 99.1h1.5M389.5 102.6h1.0M391.6 102.6h1.3M398.5 102.6h1.1M403.6 102.6h1.4M413.6 102.6h1.5M382.8 106.2h1.1M384.8 106.2h1.3M387.0 106.2h0.2M390.0 106.2h0.8M390.8 106.2h1.3M398.4 106.2h1.2M400.9 106.2h1.1M403.5 106.2h0.5M412.7 106.2h0.8M416.8 106.2h0.9M419.2 106.2h1.1M379.0 109.7h0.9M386.2 109.7h1.5M402.8 109.7h0.9M407.7 109.7h1.2M408.8 109.7h1.2M410.0 109.7h1.6M413.6 109.7h0.8M418.5 109.7h1.1M394.5 113.2h0.5M397.5 113.2h1.5M399.1 113.2h1.4M403.2 113.2h0.8M407.5 113.2h1.3M410.3 113.2h1.4M411.7 113.2h1.3M413.0 113.2h0.8M368.8 116.8h1.6M370.4 116.8h1.5M383.4 116.8h1.0M388.2 116.8h1.0M389.2 116.8h1.2M391.3 116.8h1.0M394.7 116.8h0.4M373.7 120.3h1.1M374.8 120.3h1.2M376.0 120.3h1.2M382.8 120.3h1.3M389.9 120.3h1.6M391.5 120.3h0.8M393.8 120.3h1.2M408.1 120.3h1.2M416.3 120.3h1.0M418.3 120.3h0.9M420.2 120.3h0.8M366.4 123.8h1.3M401.4 123.8h1.4M405.2 123.8h1.4M407.8 123.8h0.8M374.5 127.4h1.1M381.3 127.4h1.6M393.4 127.4h1.6M402.6 127.4h1.3M406.2 127.4h1.0M416.1 127.4h1.5M417.5 127.4h0.9M418.5 127.4h1.0M378.7 130.9h1.4M403.1 130.9h1.1M405.1 130.9h1.1M411.5 130.9h1.6M413.1 130.9h1.1M414.2 130.9h1.5M418.9 130.9h1.3M375.5 134.4h1.3M398.4 134.4h0.9M402.0 134.4h1.5M407.9 134.4h1.3M413.4 134.4h1.2M364.3 138.0h1.1M371.8 141.5h0.9M375.3 141.5h1.1M383.5 141.5h1.3M391.7 148.6h0.9M394.6 148.6h1.1M377.5 152.1h1.3M378.8 152.1h1.0M381.4 152.1h1.5M382.8 152.1h1.3" stroke="#000" stroke-opacity="0.9" stroke-width="0.9" fill="none"/>
<path d="M76.90 156.10H108.60" stroke="#ff0000" stroke-width="2.6" fill="none"/>
<path d="M76.90 119.40H108.20" stroke="#ff0000" stroke-width="1.9" stroke-dasharray="4.5 3.95" fill="none"/>
<path d="M76.90 180.30H108.20" stroke="#ff0000" stroke-width="1.9" stroke-dasharray="4.5 3.95" fill="none"/>
<path d="M108.20 135.60H140.00" stroke="#ff0000" stroke-width="2.6" fill="none"/>
<path d="M108.20 107.20H139.60" stroke="#ff0000" stroke-width="1.9" stroke-dasharray="4.5 3.95" fill="none"/>
<path d="M108.20 172.30H139.60" stroke="#ff0000" stroke-width="1.9" stroke-dasharray="4.5 3.95" fill="none"/>
<path d="M139.60 119.40H171.40" stroke="#ff0000" stroke-width="2.6" fill="none"/>
<path d="M139.60 95.10H171.00" stroke="#ff0000" stroke-width="1.9" stroke-dasharray="4.5 3.95" fill="none"/>
<path d="M139.60 160.10H171.00" stroke="#ff0000" stroke-width="1.9" stroke-dasharray="4.5 3.95" fill="none"/>
<path d="M171.00 103.30H202.80" stroke="#ff0000" stroke-width="2.6" fill="none"/>
<path d="M171.00 82.90H202.40" stroke="#ff0000" stroke-width="1.9" stroke-dasharray="4.5 3.95" fill="none"/>
<path d="M171.00 135.80H202.40" stroke="#ff0000" stroke-width="1.9" stroke-dasharray="4.5 3.95" fill="none"/>
<path d="M202.40 99.10H234.10" stroke="#ff0000" stroke-width="2.6" fill="none"/>
<path d="M202.40 74.90H233.70" stroke="#ff0000" stroke-width="1.9" stroke-dasharray="4.5 3.95" fill="none"/>
<path d="M202.40 127.60H233.70" stroke="#ff0000" stroke-width="1.9" stroke-dasharray="4.5 3.95" fill="none"/>
<path d="M371.70 123.70H399.20" stroke="#ff0000" stroke-width="2.6" fill="none"/>
<path d="M371.70 109.60H398.80" stroke="#ff0000" stroke-width="1.9" stroke-dasharray="4.5 3.95" fill="none"/>
<path d="M371.70 137.80H398.80" stroke="#ff0000" stroke-width="1.9" stroke-dasharray="4.5 3.95" fill="none"/>
<path d="M398.80 99.10H426.30" stroke="#ff0000" stroke-width="2.6" fill="none"/>
<path d="M398.80 81.00H425.90" stroke="#ff0000" stroke-width="1.9" stroke-dasharray="4.5 3.95" fill="none"/>
<path d="M398.80 116.50H425.90" stroke="#ff0000" stroke-width="1.9" stroke-dasharray="4.5 3.95" fill="none"/>
<path d="M425.90 81.00H453.60" stroke="#ff0000" stroke-width="2.6" fill="none"/>
<path d="M425.90 70.50H453.20" stroke="#ff0000" stroke-width="1.9" stroke-dasharray="4.5 3.95" fill="none"/>
<path d="M425.90 95.40H453.20" stroke="#ff0000" stroke-width="1.9" stroke-dasharray="4.5 3.95" fill="none"/>
<path d="M453.20 59.90H481.00" stroke="#ff0000" stroke-width="2.6" fill="none"/>
<path d="M453.20 49.40H480.60" stroke="#ff0000" stroke-width="1.9" stroke-dasharray="4.5 3.95" fill="none"/>
<path d="M453.20 66.90H480.60" stroke="#ff0000" stroke-width="1.9" stroke-dasharray="4.5 3.95" fill="none"/>
<path d="M480.60 59.90H508.30" stroke="#ff0000" stroke-width="2.6" fill="none"/>
<path d="M480.60 45.90H507.90" stroke="#ff0000" stroke-width="1.9" stroke-dasharray="4.5 3.95" fill="none"/>
<path d="M480.60 66.90H507.90" stroke="#ff0000" stroke-width="1.9" stroke-dasharray="4.5 3.95" fill="none"/>
<path d="M316.9 163.8L480.2 1.6" stroke="#0000ff" stroke-width="1.35" stroke-dasharray="4.5 3.98" fill="none"/>
<rect x="326.55" y="196.80" width="6.2" height="6.2" fill="none" stroke="#00ff00" stroke-width="1.6"/>
<rect x="339.25" y="181.50" width="6.2" height="6.2" fill="none" stroke="#00ff00" stroke-width="1.6"/>
<rect x="363.30" y="154.20" width="6.2" height="6.2" fill="none" stroke="#00ff00" stroke-width="1.6"/>
<rect x="384.60" y="132.30" width="6.2" height="6.2" fill="none" stroke="#00ff00" stroke-width="1.6"/>
<rect x="383.90" y="124.60" width="6.2" height="6.2" fill="none" stroke="#00ff00" stroke-width="1.6"/>
<rect x="394.70" y="113.40" width="6.2" height="6.2" fill="none" stroke="#00ff00" stroke-width="1.6"/>
<rect x="422.10" y="95.70" width="6.2" height="6.2" fill="none" stroke="#00ff00" stroke-width="1.6"/>
<rect x="45.90" y="2.90" width="208.10" height="207.30" fill="none" stroke="#111" stroke-width="1.1"/>
<rect x="316.90" y="1.60" width="207.70" height="208.50" fill="none" stroke="#111" stroke-width="1.1"/>
<path d="M56.13 210.20v-2.1M56.13 2.90v2.1M66.23 210.20v-2.1M66.23 2.90v2.1M74.48 210.20v-2.1M74.48 2.90v2.1M81.46 210.20v-2.1M81.46 2.90v2.1M87.50 210.20v-2.1M87.50 2.90v2.1M92.83 210.20v-2.1M92.83 2.90v2.1M97.60 210.20v-4.2M97.60 2.90v4.2M128.97 210.20v-2.1M128.97 2.90v2.1M147.32 210.20v-2.1M147.32 2.90v2.1M160.33 210.20v-2.1M160.33 2.90v2.1M170.43 210.20v-2.1M170.43 2.90v2.1M178.68 210.20v-2.1M178.68 2.90v2.1M185.66 210.20v-2.1M185.66 2.90v2.1M191.70 210.20v-2.1M191.70 2.90v2.1M197.03 210.20v-2.1M197.03 2.90v2.1M201.80 210.20v-4.2M201.80 2.90v4.2M233.17 210.20v-2.1M233.17 2.90v2.1M251.52 210.20v-2.1M251.52 2.90v2.1M45.90 179.00h2.1M254.00 179.00h-2.1M45.90 160.75h2.1M254.00 160.75h-2.1M45.90 147.80h2.1M254.00 147.80h-2.1M45.90 137.75h2.1M254.00 137.75h-2.1M45.90 129.54h2.1M254.00 129.54h-2.1M45.90 122.61h2.1M254.00 122.61h-2.1M45.90 116.59h2.1M254.00 116.59h-2.1M45.90 111.29h2.1M254.00 111.29h-2.1M45.90 106.55h4.2M254.00 106.55h-4.2M45.90 75.35h2.1M254.00 75.35h-2.1M45.90 57.10h2.1M254.00 57.10h-2.1M45.90 44.15h2.1M254.00 44.15h-2.1M45.90 34.10h2.1M254.00 34.10h-2.1M45.90 25.89h2.1M254.00 25.89h-2.1M45.90 18.96h2.1M254.00 18.96h-2.1M45.90 12.94h2.1M254.00 12.94h-2.1M45.90 7.64h2.1M254.00 7.64h-2.1" stroke="#111" stroke-width="1" fill="none"/>
<path d="M326.11 210.10v-2.1M326.11 1.60v2.1M342.00 210.10v-2.1M342.00 1.60v2.1M353.28 210.10v-2.1M353.28 1.60v2.1M362.03 210.10v-2.1M362.03 1.60v2.1M369.18 210.10v-2.1M369.18 1.60v2.1M375.22 210.10v-2.1M375.22 1.60v2.1M380.45 210.10v-2.1M380.45 1.60v2.1M385.07 210.10v-2.1M385.07 1.60v2.1M389.20 210.10v-4.2M389.20 1.60v4.2M416.37 210.10v-2.1M416.37 1.60v2.1M432.26 210.10v-2.1M432.26 1.60v2.1M443.54 210.10v-2.1M443.54 1.60v2.1M452.29 210.10v-2.1M452.29 1.60v2.1M459.44 210.10v-2.1M459.44 1.60v2.1M465.48 210.10v-2.1M465.48 1.60v2.1M470.71 210.10v-2.1M470.71 1.60v2.1M475.33 210.10v-2.1M475.33 1.60v2.1M479.46 210.10v-4.2M479.46 1.60v4.2M506.63 210.10v-2.1M506.63 1.60v2.1M522.52 210.10v-2.1M522.52 1.60v2.1M316.90 203.06h2.1M524.60 203.06h-2.1M316.90 196.99h2.1M524.60 196.99h-2.1M316.90 191.73h2.1M524.60 191.73h-2.1M316.90 187.10h2.1M524.60 187.10h-2.1M316.90 182.95h4.2M524.60 182.95h-4.2M316.90 155.66h2.1M524.60 155.66h-2.1M316.90 139.70h2.1M524.60 139.70h-2.1M316.90 128.37h2.1M524.60 128.37h-2.1M316.90 119.59h2.1M524.60 119.59h-2.1M316.90 112.41h2.1M524.60 112.41h-2.1M316.90 106.34h2.1M524.60 106.34h-2.1M316.90 101.08h2.1M524.60 101.08h-2.1M316.90 96.45h2.1M524.60 96.45h-2.1M316.90 92.30h4.2M524.60 92.30h-4.2M316.90 65.01h2.1M524.60 65.01h-2.1M316.90 49.05h2.1M524.60 49.05h-2.1M316.90 37.72h2.1M524.60 37.72h-2.1M316.90 28.94h2.1M524.60 28.94h-2.1M316.90 21.76h2.1M524.60 21.76h-2.1M316.90 15.69h2.1M524.60 15.69h-2.1M316.90 10.43h2.1M524.60 10.43h-2.1M316.90 5.80h2.1M524.60 5.80h-2.1" stroke="#111" stroke-width="1" fill="none"/>
<text x="40.9" y="9.0" font-size="10.9" text-anchor="end" font-family="Liberation Sans, sans-serif" fill="#000" stroke="#000" stroke-width="0.15" >1.00</text>
<text x="40.9" y="110.5" font-size="10.9" text-anchor="end" font-family="Liberation Sans, sans-serif" fill="#000" stroke="#000" stroke-width="0.15" >0.10</text>
<text x="40.9" y="210.2" font-size="10.9" text-anchor="end" font-family="Liberation Sans, sans-serif" fill="#000" stroke="#000" stroke-width="0.15" >0.01</text>
<text x="97.3" y="225.1" font-size="10.9" text-anchor="middle" font-family="Liberation Sans, sans-serif" fill="#000" stroke="#000" stroke-width="0.15" >1</text>
<text x="201.9" y="225.1" font-size="10.9" text-anchor="middle" font-family="Liberation Sans, sans-serif" fill="#000" stroke="#000" stroke-width="0.15" >10</text>
<text x="149.9" y="241.9" font-size="11.85" text-anchor="middle" font-family="Liberation Sans, sans-serif" fill="#000" stroke="#000" stroke-width="0.15" >Gyro-Structure Frequency (Hz)</text>
<text x="0" y="0" font-size="11.1" text-anchor="middle" font-family="Liberation Sans, sans-serif" fill="#000" stroke="#000" stroke-width="0.15" transform="translate(9.5 105.5) rotate(-90) scale(1.065 1)">Breakpoint 1 (Hz)</text>
<text x="172.9" y="24.3" font-size="13" text-anchor="start" font-family="Liberation Sans, sans-serif" fill="#000" stroke="#000" stroke-width="0.15" >C =</text>
<text x="201.5" y="24.3" font-size="13" text-anchor="start" font-family="Liberation Sans, sans-serif" fill="#000" stroke="#000" stroke-width="0.15" >0.256</text>
<text x="144.0" y="260.0" font-size="13.6" text-anchor="middle" font-family="Liberation Serif, serif" fill="#000" stroke="#000" stroke-width="0.15" >(a)</text>
<text x="311.9" y="8.4" font-size="10.9" text-anchor="end" font-family="Liberation Sans, sans-serif" fill="#000" stroke="#000" stroke-width="0.15" >10.0</text>
<text x="311.9" y="96.3" font-size="10.9" text-anchor="end" font-family="Liberation Sans, sans-serif" fill="#000" stroke="#000" stroke-width="0.15" >1.0</text>
<text x="311.9" y="186.9" font-size="10.9" text-anchor="end" font-family="Liberation Sans, sans-serif" fill="#000" stroke="#000" stroke-width="0.15" >0.1</text>
<text x="389.0" y="225.2" font-size="10.9" text-anchor="middle" font-family="Liberation Sans, sans-serif" fill="#000" stroke="#000" stroke-width="0.15" >1</text>
<text x="479.8" y="225.2" font-size="10.9" text-anchor="middle" font-family="Liberation Sans, sans-serif" fill="#000" stroke="#000" stroke-width="0.15" >10</text>
<text x="421.3" y="242.0" font-size="11.85" text-anchor="middle" font-family="Liberation Sans, sans-serif" fill="#000" stroke="#000" stroke-width="0.15" >Gyro-Structure Frequency (Hz)</text>
<text x="0" y="0" font-size="11.1" text-anchor="middle" font-family="Liberation Sans, sans-serif" fill="#000" stroke="#000" stroke-width="0.15" transform="translate(279.9 105.5) rotate(-90) scale(1.065 1)">Breakpoint 2 (Hz)</text>
<text x="343.2" y="20.3" font-size="13" text-anchor="start" font-family="Liberation Sans, sans-serif" fill="#000" stroke="#000" stroke-width="0.15" >C =</text>
<text x="371.6" y="20.3" font-size="13" text-anchor="start" font-family="Liberation Sans, sans-serif" fill="#000" stroke="#000" stroke-width="0.15" >0.735</text>
<text x="415.8" y="260.0" font-size="13.6" text-anchor="middle" font-family="Liberation Serif, serif" fill="#000" stroke="#000" stroke-width="0.15" >(b)</text>
</svg>
</body></html>
